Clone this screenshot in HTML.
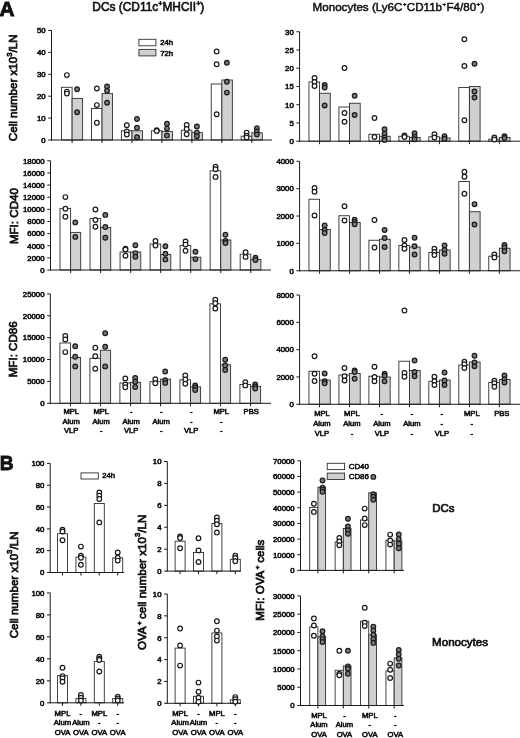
<!DOCTYPE html>
<html><head><meta charset="utf-8"><title>Figure</title>
<style>
html,body{margin:0;padding:0;background:#fff;}
body{width:520px;height:738px;overflow:hidden;font-family:"Liberation Sans",sans-serif;}
svg{display:block;will-change:transform;opacity:0.999;filter:blur(0.35px);}
svg text{font-family:"Liberation Sans",sans-serif;fill:#111;stroke:#111;stroke-width:0.6px;}
</style></head><body>
<svg width="520" height="738" viewBox="0 0 520 738">
<rect x="61.50" y="87.30" width="10.60" height="52.70" fill="#fff" stroke="#303030" stroke-width="0.9"/>
<rect x="72.10" y="98.40" width="10.50" height="41.60" fill="#d0d0d0" stroke="#303030" stroke-width="0.9"/>
<rect x="91.45" y="108.50" width="10.60" height="31.50" fill="#fff" stroke="#303030" stroke-width="0.9"/>
<rect x="102.05" y="93.60" width="10.50" height="46.40" fill="#d0d0d0" stroke="#303030" stroke-width="0.9"/>
<rect x="121.40" y="130.80" width="10.60" height="9.20" fill="#fff" stroke="#303030" stroke-width="0.9"/>
<rect x="132.00" y="130.80" width="10.50" height="9.20" fill="#d0d0d0" stroke="#303030" stroke-width="0.9"/>
<rect x="151.35" y="130.80" width="10.60" height="9.20" fill="#fff" stroke="#303030" stroke-width="0.9"/>
<rect x="161.95" y="131.40" width="10.50" height="8.60" fill="#d0d0d0" stroke="#303030" stroke-width="0.9"/>
<rect x="181.30" y="130.20" width="10.60" height="9.80" fill="#fff" stroke="#303030" stroke-width="0.9"/>
<rect x="191.90" y="132.60" width="10.50" height="7.40" fill="#d0d0d0" stroke="#303030" stroke-width="0.9"/>
<rect x="211.25" y="84.00" width="10.60" height="56.00" fill="#fff" stroke="#303030" stroke-width="0.9"/>
<rect x="221.85" y="80.00" width="10.50" height="60.00" fill="#d0d0d0" stroke="#303030" stroke-width="0.9"/>
<rect x="241.20" y="136.20" width="10.60" height="3.80" fill="#fff" stroke="#303030" stroke-width="0.9"/>
<rect x="251.80" y="132.80" width="10.50" height="7.20" fill="#d0d0d0" stroke="#303030" stroke-width="0.9"/>
<line x1="51.50" y1="30.50" x2="51.50" y2="140.50" stroke="#1a1a1a" stroke-width="1.0"/>
<line x1="51.00" y1="140.00" x2="272.00" y2="140.00" stroke="#1a1a1a" stroke-width="1.0"/>
<line x1="48.30" y1="140.00" x2="51.50" y2="140.00" stroke="#1a1a1a" stroke-width="1.0"/>
<text x="45.70" y="142.80" font-size="7.8" text-anchor="end" font-weight="normal" >0</text>
<line x1="48.30" y1="118.10" x2="51.50" y2="118.10" stroke="#1a1a1a" stroke-width="1.0"/>
<text x="45.70" y="120.90" font-size="7.8" text-anchor="end" font-weight="normal" >10</text>
<line x1="48.30" y1="96.20" x2="51.50" y2="96.20" stroke="#1a1a1a" stroke-width="1.0"/>
<text x="45.70" y="99.00" font-size="7.8" text-anchor="end" font-weight="normal" >20</text>
<line x1="48.30" y1="74.30" x2="51.50" y2="74.30" stroke="#1a1a1a" stroke-width="1.0"/>
<text x="45.70" y="77.10" font-size="7.8" text-anchor="end" font-weight="normal" >30</text>
<line x1="48.30" y1="52.40" x2="51.50" y2="52.40" stroke="#1a1a1a" stroke-width="1.0"/>
<text x="45.70" y="55.20" font-size="7.8" text-anchor="end" font-weight="normal" >40</text>
<line x1="48.30" y1="30.50" x2="51.50" y2="30.50" stroke="#1a1a1a" stroke-width="1.0"/>
<text x="45.70" y="33.30" font-size="7.8" text-anchor="end" font-weight="normal" >50</text>
<line x1="72.10" y1="140.00" x2="72.10" y2="143.00" stroke="#1a1a1a" stroke-width="1.0"/>
<line x1="102.05" y1="140.00" x2="102.05" y2="143.00" stroke="#1a1a1a" stroke-width="1.0"/>
<line x1="132.00" y1="140.00" x2="132.00" y2="143.00" stroke="#1a1a1a" stroke-width="1.0"/>
<line x1="161.95" y1="140.00" x2="161.95" y2="143.00" stroke="#1a1a1a" stroke-width="1.0"/>
<line x1="191.90" y1="140.00" x2="191.90" y2="143.00" stroke="#1a1a1a" stroke-width="1.0"/>
<line x1="221.85" y1="140.00" x2="221.85" y2="143.00" stroke="#1a1a1a" stroke-width="1.0"/>
<line x1="251.80" y1="140.00" x2="251.80" y2="143.00" stroke="#1a1a1a" stroke-width="1.0"/>
<circle cx="66.90" cy="75.10" r="2.33" fill="#fff" stroke="#1a1a1a" stroke-width="1.2"/>
<circle cx="66.90" cy="91.60" r="2.33" fill="#fff" stroke="#1a1a1a" stroke-width="1.2"/>
<circle cx="66.90" cy="93.60" r="2.33" fill="#fff" stroke="#1a1a1a" stroke-width="1.2"/>
<circle cx="77.10" cy="89.20" r="2.33" fill="#7a7a7a" stroke="#1a1a1a" stroke-width="1.2"/>
<circle cx="77.10" cy="112.20" r="2.33" fill="#7a7a7a" stroke="#1a1a1a" stroke-width="1.2"/>
<circle cx="96.85" cy="88.50" r="2.33" fill="#fff" stroke="#1a1a1a" stroke-width="1.2"/>
<circle cx="96.85" cy="105.10" r="2.33" fill="#fff" stroke="#1a1a1a" stroke-width="1.2"/>
<circle cx="96.85" cy="122.70" r="2.33" fill="#fff" stroke="#1a1a1a" stroke-width="1.2"/>
<circle cx="107.05" cy="86.50" r="2.33" fill="#7a7a7a" stroke="#1a1a1a" stroke-width="1.2"/>
<circle cx="107.05" cy="90.70" r="2.33" fill="#7a7a7a" stroke="#1a1a1a" stroke-width="1.2"/>
<circle cx="107.05" cy="102.80" r="2.33" fill="#7a7a7a" stroke="#1a1a1a" stroke-width="1.2"/>
<circle cx="126.80" cy="125.20" r="2.33" fill="#fff" stroke="#1a1a1a" stroke-width="1.2"/>
<circle cx="126.80" cy="131.40" r="2.33" fill="#fff" stroke="#1a1a1a" stroke-width="1.2"/>
<circle cx="126.80" cy="134.50" r="2.33" fill="#fff" stroke="#1a1a1a" stroke-width="1.2"/>
<circle cx="137.00" cy="119.00" r="2.33" fill="#7a7a7a" stroke="#1a1a1a" stroke-width="1.2"/>
<circle cx="137.00" cy="127.70" r="2.33" fill="#7a7a7a" stroke="#1a1a1a" stroke-width="1.2"/>
<circle cx="137.00" cy="137.20" r="2.33" fill="#7a7a7a" stroke="#1a1a1a" stroke-width="1.2"/>
<circle cx="156.75" cy="130.20" r="2.33" fill="#fff" stroke="#1a1a1a" stroke-width="1.2"/>
<circle cx="156.75" cy="131.00" r="2.33" fill="#fff" stroke="#1a1a1a" stroke-width="1.2"/>
<circle cx="166.95" cy="123.70" r="2.33" fill="#7a7a7a" stroke="#1a1a1a" stroke-width="1.2"/>
<circle cx="166.95" cy="128.60" r="2.33" fill="#7a7a7a" stroke="#1a1a1a" stroke-width="1.2"/>
<circle cx="166.95" cy="135.40" r="2.33" fill="#7a7a7a" stroke="#1a1a1a" stroke-width="1.2"/>
<circle cx="186.70" cy="124.90" r="2.33" fill="#fff" stroke="#1a1a1a" stroke-width="1.2"/>
<circle cx="186.70" cy="128.90" r="2.33" fill="#fff" stroke="#1a1a1a" stroke-width="1.2"/>
<circle cx="186.70" cy="134.20" r="2.33" fill="#fff" stroke="#1a1a1a" stroke-width="1.2"/>
<circle cx="196.90" cy="126.50" r="2.33" fill="#7a7a7a" stroke="#1a1a1a" stroke-width="1.2"/>
<circle cx="196.90" cy="132.60" r="2.33" fill="#7a7a7a" stroke="#1a1a1a" stroke-width="1.2"/>
<circle cx="196.90" cy="136.30" r="2.33" fill="#7a7a7a" stroke="#1a1a1a" stroke-width="1.2"/>
<circle cx="216.65" cy="51.40" r="2.33" fill="#fff" stroke="#1a1a1a" stroke-width="1.2"/>
<circle cx="216.65" cy="64.30" r="2.33" fill="#fff" stroke="#1a1a1a" stroke-width="1.2"/>
<circle cx="216.65" cy="114.20" r="2.33" fill="#fff" stroke="#1a1a1a" stroke-width="1.2"/>
<circle cx="226.85" cy="62.80" r="2.33" fill="#7a7a7a" stroke="#1a1a1a" stroke-width="1.2"/>
<circle cx="226.85" cy="81.80" r="2.33" fill="#7a7a7a" stroke="#1a1a1a" stroke-width="1.2"/>
<circle cx="226.85" cy="92.60" r="2.33" fill="#7a7a7a" stroke="#1a1a1a" stroke-width="1.2"/>
<circle cx="246.60" cy="132.60" r="2.33" fill="#fff" stroke="#1a1a1a" stroke-width="1.2"/>
<circle cx="246.60" cy="135.70" r="2.33" fill="#fff" stroke="#1a1a1a" stroke-width="1.2"/>
<circle cx="246.60" cy="137.60" r="2.33" fill="#fff" stroke="#1a1a1a" stroke-width="1.2"/>
<circle cx="256.80" cy="128.30" r="2.33" fill="#7a7a7a" stroke="#1a1a1a" stroke-width="1.2"/>
<circle cx="256.80" cy="131.40" r="2.33" fill="#7a7a7a" stroke="#1a1a1a" stroke-width="1.2"/>
<circle cx="256.80" cy="134.50" r="2.33" fill="#7a7a7a" stroke="#1a1a1a" stroke-width="1.2"/>
<rect x="60.00" y="208.40" width="10.60" height="61.60" fill="#fff" stroke="#303030" stroke-width="0.9"/>
<rect x="70.60" y="232.40" width="10.10" height="37.60" fill="#d0d0d0" stroke="#303030" stroke-width="0.9"/>
<rect x="90.03" y="218.60" width="10.60" height="51.40" fill="#fff" stroke="#303030" stroke-width="0.9"/>
<rect x="100.63" y="227.50" width="10.10" height="42.50" fill="#d0d0d0" stroke="#303030" stroke-width="0.9"/>
<rect x="120.06" y="252.00" width="10.60" height="18.00" fill="#fff" stroke="#303030" stroke-width="0.9"/>
<rect x="130.66" y="252.00" width="10.10" height="18.00" fill="#d0d0d0" stroke="#303030" stroke-width="0.9"/>
<rect x="150.09" y="244.00" width="10.60" height="26.00" fill="#fff" stroke="#303030" stroke-width="0.9"/>
<rect x="160.69" y="254.50" width="10.10" height="15.50" fill="#d0d0d0" stroke="#303030" stroke-width="0.9"/>
<rect x="180.12" y="245.50" width="10.60" height="24.50" fill="#fff" stroke="#303030" stroke-width="0.9"/>
<rect x="190.72" y="257.20" width="10.10" height="12.80" fill="#d0d0d0" stroke="#303030" stroke-width="0.9"/>
<rect x="210.15" y="170.80" width="10.60" height="99.20" fill="#fff" stroke="#303030" stroke-width="0.9"/>
<rect x="220.75" y="240.00" width="10.10" height="30.00" fill="#d0d0d0" stroke="#303030" stroke-width="0.9"/>
<rect x="240.18" y="254.20" width="10.60" height="15.80" fill="#fff" stroke="#303030" stroke-width="0.9"/>
<rect x="250.78" y="259.40" width="10.10" height="10.60" fill="#d0d0d0" stroke="#303030" stroke-width="0.9"/>
<line x1="50.50" y1="160.80" x2="50.50" y2="270.50" stroke="#1a1a1a" stroke-width="1.0"/>
<line x1="50.00" y1="270.00" x2="271.00" y2="270.00" stroke="#1a1a1a" stroke-width="1.0"/>
<line x1="47.30" y1="270.00" x2="50.50" y2="270.00" stroke="#1a1a1a" stroke-width="1.0"/>
<text x="44.70" y="272.80" font-size="7.8" text-anchor="end" font-weight="normal" >0</text>
<line x1="47.30" y1="257.87" x2="50.50" y2="257.87" stroke="#1a1a1a" stroke-width="1.0"/>
<text x="44.70" y="260.67" font-size="7.8" text-anchor="end" font-weight="normal" >2000</text>
<line x1="47.30" y1="245.73" x2="50.50" y2="245.73" stroke="#1a1a1a" stroke-width="1.0"/>
<text x="44.70" y="248.53" font-size="7.8" text-anchor="end" font-weight="normal" >4000</text>
<line x1="47.30" y1="233.60" x2="50.50" y2="233.60" stroke="#1a1a1a" stroke-width="1.0"/>
<text x="44.70" y="236.40" font-size="7.8" text-anchor="end" font-weight="normal" >6000</text>
<line x1="47.30" y1="221.47" x2="50.50" y2="221.47" stroke="#1a1a1a" stroke-width="1.0"/>
<text x="44.70" y="224.27" font-size="7.8" text-anchor="end" font-weight="normal" >8000</text>
<line x1="47.30" y1="209.33" x2="50.50" y2="209.33" stroke="#1a1a1a" stroke-width="1.0"/>
<text x="44.70" y="212.13" font-size="7.8" text-anchor="end" font-weight="normal" >10000</text>
<line x1="47.30" y1="197.20" x2="50.50" y2="197.20" stroke="#1a1a1a" stroke-width="1.0"/>
<text x="44.70" y="200.00" font-size="7.8" text-anchor="end" font-weight="normal" >12000</text>
<line x1="47.30" y1="185.07" x2="50.50" y2="185.07" stroke="#1a1a1a" stroke-width="1.0"/>
<text x="44.70" y="187.87" font-size="7.8" text-anchor="end" font-weight="normal" >14000</text>
<line x1="47.30" y1="172.93" x2="50.50" y2="172.93" stroke="#1a1a1a" stroke-width="1.0"/>
<text x="44.70" y="175.73" font-size="7.8" text-anchor="end" font-weight="normal" >16000</text>
<line x1="47.30" y1="160.80" x2="50.50" y2="160.80" stroke="#1a1a1a" stroke-width="1.0"/>
<text x="44.70" y="163.60" font-size="7.8" text-anchor="end" font-weight="normal" >18000</text>
<line x1="70.60" y1="270.00" x2="70.60" y2="273.00" stroke="#1a1a1a" stroke-width="1.0"/>
<line x1="100.63" y1="270.00" x2="100.63" y2="273.00" stroke="#1a1a1a" stroke-width="1.0"/>
<line x1="130.66" y1="270.00" x2="130.66" y2="273.00" stroke="#1a1a1a" stroke-width="1.0"/>
<line x1="160.69" y1="270.00" x2="160.69" y2="273.00" stroke="#1a1a1a" stroke-width="1.0"/>
<line x1="190.72" y1="270.00" x2="190.72" y2="273.00" stroke="#1a1a1a" stroke-width="1.0"/>
<line x1="220.75" y1="270.00" x2="220.75" y2="273.00" stroke="#1a1a1a" stroke-width="1.0"/>
<line x1="250.78" y1="270.00" x2="250.78" y2="273.00" stroke="#1a1a1a" stroke-width="1.0"/>
<circle cx="65.40" cy="197.10" r="2.33" fill="#fff" stroke="#1a1a1a" stroke-width="1.2"/>
<circle cx="65.40" cy="208.70" r="2.33" fill="#fff" stroke="#1a1a1a" stroke-width="1.2"/>
<circle cx="65.40" cy="216.70" r="2.33" fill="#fff" stroke="#1a1a1a" stroke-width="1.2"/>
<circle cx="75.30" cy="222.40" r="2.33" fill="#7a7a7a" stroke="#1a1a1a" stroke-width="1.2"/>
<circle cx="75.30" cy="236.90" r="2.33" fill="#7a7a7a" stroke="#1a1a1a" stroke-width="1.2"/>
<circle cx="95.43" cy="209.50" r="2.33" fill="#fff" stroke="#1a1a1a" stroke-width="1.2"/>
<circle cx="95.43" cy="220.00" r="2.33" fill="#fff" stroke="#1a1a1a" stroke-width="1.2"/>
<circle cx="95.43" cy="226.70" r="2.33" fill="#fff" stroke="#1a1a1a" stroke-width="1.2"/>
<circle cx="105.33" cy="214.90" r="2.33" fill="#7a7a7a" stroke="#1a1a1a" stroke-width="1.2"/>
<circle cx="105.33" cy="227.00" r="2.33" fill="#7a7a7a" stroke="#1a1a1a" stroke-width="1.2"/>
<circle cx="105.33" cy="237.70" r="2.33" fill="#7a7a7a" stroke="#1a1a1a" stroke-width="1.2"/>
<circle cx="125.46" cy="248.80" r="2.33" fill="#fff" stroke="#1a1a1a" stroke-width="1.2"/>
<circle cx="125.46" cy="249.60" r="2.33" fill="#fff" stroke="#1a1a1a" stroke-width="1.2"/>
<circle cx="125.46" cy="255.80" r="2.33" fill="#fff" stroke="#1a1a1a" stroke-width="1.2"/>
<circle cx="135.36" cy="245.20" r="2.33" fill="#7a7a7a" stroke="#1a1a1a" stroke-width="1.2"/>
<circle cx="135.36" cy="253.10" r="2.33" fill="#7a7a7a" stroke="#1a1a1a" stroke-width="1.2"/>
<circle cx="135.36" cy="256.80" r="2.33" fill="#7a7a7a" stroke="#1a1a1a" stroke-width="1.2"/>
<circle cx="155.49" cy="240.90" r="2.33" fill="#fff" stroke="#1a1a1a" stroke-width="1.2"/>
<circle cx="155.49" cy="245.50" r="2.33" fill="#fff" stroke="#1a1a1a" stroke-width="1.2"/>
<circle cx="165.39" cy="246.20" r="2.33" fill="#7a7a7a" stroke="#1a1a1a" stroke-width="1.2"/>
<circle cx="165.39" cy="253.80" r="2.33" fill="#7a7a7a" stroke="#1a1a1a" stroke-width="1.2"/>
<circle cx="165.39" cy="259.40" r="2.33" fill="#7a7a7a" stroke="#1a1a1a" stroke-width="1.2"/>
<circle cx="185.52" cy="241.50" r="2.33" fill="#fff" stroke="#1a1a1a" stroke-width="1.2"/>
<circle cx="185.52" cy="244.60" r="2.33" fill="#fff" stroke="#1a1a1a" stroke-width="1.2"/>
<circle cx="185.52" cy="250.80" r="2.33" fill="#fff" stroke="#1a1a1a" stroke-width="1.2"/>
<circle cx="195.42" cy="251.70" r="2.33" fill="#7a7a7a" stroke="#1a1a1a" stroke-width="1.2"/>
<circle cx="195.42" cy="259.10" r="2.33" fill="#7a7a7a" stroke="#1a1a1a" stroke-width="1.2"/>
<circle cx="215.55" cy="166.80" r="2.33" fill="#fff" stroke="#1a1a1a" stroke-width="1.2"/>
<circle cx="215.55" cy="169.20" r="2.33" fill="#fff" stroke="#1a1a1a" stroke-width="1.2"/>
<circle cx="215.55" cy="176.90" r="2.33" fill="#fff" stroke="#1a1a1a" stroke-width="1.2"/>
<circle cx="225.45" cy="234.80" r="2.33" fill="#7a7a7a" stroke="#1a1a1a" stroke-width="1.2"/>
<circle cx="225.45" cy="240.90" r="2.33" fill="#7a7a7a" stroke="#1a1a1a" stroke-width="1.2"/>
<circle cx="225.45" cy="243.00" r="2.33" fill="#7a7a7a" stroke="#1a1a1a" stroke-width="1.2"/>
<circle cx="245.58" cy="252.30" r="2.33" fill="#fff" stroke="#1a1a1a" stroke-width="1.2"/>
<circle cx="245.58" cy="256.90" r="2.33" fill="#fff" stroke="#1a1a1a" stroke-width="1.2"/>
<circle cx="255.48" cy="257.80" r="2.33" fill="#7a7a7a" stroke="#1a1a1a" stroke-width="1.2"/>
<circle cx="255.48" cy="260.00" r="2.33" fill="#7a7a7a" stroke="#1a1a1a" stroke-width="1.2"/>
<rect x="59.90" y="343.00" width="10.60" height="60.30" fill="#fff" stroke="#303030" stroke-width="0.9"/>
<rect x="70.50" y="357.50" width="10.10" height="45.80" fill="#d0d0d0" stroke="#303030" stroke-width="0.9"/>
<rect x="89.90" y="358.30" width="10.60" height="45.00" fill="#fff" stroke="#303030" stroke-width="0.9"/>
<rect x="100.50" y="350.20" width="10.10" height="53.10" fill="#d0d0d0" stroke="#303030" stroke-width="0.9"/>
<rect x="119.90" y="383.00" width="10.60" height="20.30" fill="#fff" stroke="#303030" stroke-width="0.9"/>
<rect x="130.50" y="382.40" width="10.10" height="20.90" fill="#d0d0d0" stroke="#303030" stroke-width="0.9"/>
<rect x="149.90" y="381.70" width="10.60" height="21.60" fill="#fff" stroke="#303030" stroke-width="0.9"/>
<rect x="160.50" y="379.20" width="10.10" height="24.10" fill="#d0d0d0" stroke="#303030" stroke-width="0.9"/>
<rect x="179.90" y="379.80" width="10.60" height="23.50" fill="#fff" stroke="#303030" stroke-width="0.9"/>
<rect x="190.50" y="386.90" width="10.10" height="16.40" fill="#d0d0d0" stroke="#303030" stroke-width="0.9"/>
<rect x="209.90" y="303.80" width="10.60" height="99.50" fill="#fff" stroke="#303030" stroke-width="0.9"/>
<rect x="220.50" y="364.80" width="10.10" height="38.50" fill="#d0d0d0" stroke="#303030" stroke-width="0.9"/>
<rect x="239.90" y="384.50" width="10.60" height="18.80" fill="#fff" stroke="#303030" stroke-width="0.9"/>
<rect x="250.50" y="386.30" width="10.10" height="17.00" fill="#d0d0d0" stroke="#303030" stroke-width="0.9"/>
<line x1="50.30" y1="293.90" x2="50.30" y2="403.80" stroke="#1a1a1a" stroke-width="1.0"/>
<line x1="49.80" y1="403.30" x2="271.00" y2="403.30" stroke="#1a1a1a" stroke-width="1.0"/>
<line x1="47.10" y1="403.30" x2="50.30" y2="403.30" stroke="#1a1a1a" stroke-width="1.0"/>
<text x="44.50" y="406.10" font-size="7.8" text-anchor="end" font-weight="normal" >0</text>
<line x1="47.10" y1="381.42" x2="50.30" y2="381.42" stroke="#1a1a1a" stroke-width="1.0"/>
<text x="44.50" y="384.22" font-size="7.8" text-anchor="end" font-weight="normal" >5000</text>
<line x1="47.10" y1="359.54" x2="50.30" y2="359.54" stroke="#1a1a1a" stroke-width="1.0"/>
<text x="44.50" y="362.34" font-size="7.8" text-anchor="end" font-weight="normal" >10000</text>
<line x1="47.10" y1="337.66" x2="50.30" y2="337.66" stroke="#1a1a1a" stroke-width="1.0"/>
<text x="44.50" y="340.46" font-size="7.8" text-anchor="end" font-weight="normal" >15000</text>
<line x1="47.10" y1="315.78" x2="50.30" y2="315.78" stroke="#1a1a1a" stroke-width="1.0"/>
<text x="44.50" y="318.58" font-size="7.8" text-anchor="end" font-weight="normal" >20000</text>
<line x1="47.10" y1="293.90" x2="50.30" y2="293.90" stroke="#1a1a1a" stroke-width="1.0"/>
<text x="44.50" y="296.70" font-size="7.8" text-anchor="end" font-weight="normal" >25000</text>
<line x1="70.50" y1="403.30" x2="70.50" y2="406.30" stroke="#1a1a1a" stroke-width="1.0"/>
<line x1="100.50" y1="403.30" x2="100.50" y2="406.30" stroke="#1a1a1a" stroke-width="1.0"/>
<line x1="130.50" y1="403.30" x2="130.50" y2="406.30" stroke="#1a1a1a" stroke-width="1.0"/>
<line x1="160.50" y1="403.30" x2="160.50" y2="406.30" stroke="#1a1a1a" stroke-width="1.0"/>
<line x1="190.50" y1="403.30" x2="190.50" y2="406.30" stroke="#1a1a1a" stroke-width="1.0"/>
<line x1="220.50" y1="403.30" x2="220.50" y2="406.30" stroke="#1a1a1a" stroke-width="1.0"/>
<line x1="250.50" y1="403.30" x2="250.50" y2="406.30" stroke="#1a1a1a" stroke-width="1.0"/>
<circle cx="65.30" cy="336.00" r="2.33" fill="#fff" stroke="#1a1a1a" stroke-width="1.2"/>
<circle cx="65.30" cy="339.50" r="2.33" fill="#fff" stroke="#1a1a1a" stroke-width="1.2"/>
<circle cx="65.30" cy="352.10" r="2.33" fill="#fff" stroke="#1a1a1a" stroke-width="1.2"/>
<circle cx="75.20" cy="346.20" r="2.33" fill="#7a7a7a" stroke="#1a1a1a" stroke-width="1.2"/>
<circle cx="75.20" cy="356.70" r="2.33" fill="#7a7a7a" stroke="#1a1a1a" stroke-width="1.2"/>
<circle cx="75.20" cy="366.40" r="2.33" fill="#7a7a7a" stroke="#1a1a1a" stroke-width="1.2"/>
<circle cx="95.30" cy="347.80" r="2.33" fill="#fff" stroke="#1a1a1a" stroke-width="1.2"/>
<circle cx="95.30" cy="356.20" r="2.33" fill="#fff" stroke="#1a1a1a" stroke-width="1.2"/>
<circle cx="95.30" cy="368.80" r="2.33" fill="#fff" stroke="#1a1a1a" stroke-width="1.2"/>
<circle cx="105.20" cy="333.30" r="2.33" fill="#7a7a7a" stroke="#1a1a1a" stroke-width="1.2"/>
<circle cx="105.20" cy="346.70" r="2.33" fill="#7a7a7a" stroke="#1a1a1a" stroke-width="1.2"/>
<circle cx="105.20" cy="366.40" r="2.33" fill="#7a7a7a" stroke="#1a1a1a" stroke-width="1.2"/>
<circle cx="125.30" cy="378.40" r="2.33" fill="#fff" stroke="#1a1a1a" stroke-width="1.2"/>
<circle cx="125.30" cy="384.40" r="2.33" fill="#fff" stroke="#1a1a1a" stroke-width="1.2"/>
<circle cx="125.30" cy="387.20" r="2.33" fill="#fff" stroke="#1a1a1a" stroke-width="1.2"/>
<circle cx="135.20" cy="377.90" r="2.33" fill="#7a7a7a" stroke="#1a1a1a" stroke-width="1.2"/>
<circle cx="135.20" cy="381.70" r="2.33" fill="#7a7a7a" stroke="#1a1a1a" stroke-width="1.2"/>
<circle cx="135.20" cy="387.00" r="2.33" fill="#7a7a7a" stroke="#1a1a1a" stroke-width="1.2"/>
<circle cx="155.30" cy="379.20" r="2.33" fill="#fff" stroke="#1a1a1a" stroke-width="1.2"/>
<circle cx="155.30" cy="383.20" r="2.33" fill="#fff" stroke="#1a1a1a" stroke-width="1.2"/>
<circle cx="165.20" cy="371.50" r="2.33" fill="#7a7a7a" stroke="#1a1a1a" stroke-width="1.2"/>
<circle cx="165.20" cy="380.20" r="2.33" fill="#7a7a7a" stroke="#1a1a1a" stroke-width="1.2"/>
<circle cx="165.20" cy="382.90" r="2.33" fill="#7a7a7a" stroke="#1a1a1a" stroke-width="1.2"/>
<circle cx="185.30" cy="375.50" r="2.33" fill="#fff" stroke="#1a1a1a" stroke-width="1.2"/>
<circle cx="185.30" cy="379.50" r="2.33" fill="#fff" stroke="#1a1a1a" stroke-width="1.2"/>
<circle cx="185.30" cy="383.80" r="2.33" fill="#fff" stroke="#1a1a1a" stroke-width="1.2"/>
<circle cx="195.20" cy="385.40" r="2.33" fill="#7a7a7a" stroke="#1a1a1a" stroke-width="1.2"/>
<circle cx="195.20" cy="387.50" r="2.33" fill="#7a7a7a" stroke="#1a1a1a" stroke-width="1.2"/>
<circle cx="195.20" cy="390.00" r="2.33" fill="#7a7a7a" stroke="#1a1a1a" stroke-width="1.2"/>
<circle cx="215.30" cy="299.80" r="2.33" fill="#fff" stroke="#1a1a1a" stroke-width="1.2"/>
<circle cx="215.30" cy="303.20" r="2.33" fill="#fff" stroke="#1a1a1a" stroke-width="1.2"/>
<circle cx="215.30" cy="308.50" r="2.33" fill="#fff" stroke="#1a1a1a" stroke-width="1.2"/>
<circle cx="225.20" cy="359.80" r="2.33" fill="#7a7a7a" stroke="#1a1a1a" stroke-width="1.2"/>
<circle cx="225.20" cy="365.40" r="2.33" fill="#7a7a7a" stroke="#1a1a1a" stroke-width="1.2"/>
<circle cx="225.20" cy="370.00" r="2.33" fill="#7a7a7a" stroke="#1a1a1a" stroke-width="1.2"/>
<circle cx="245.30" cy="382.30" r="2.33" fill="#fff" stroke="#1a1a1a" stroke-width="1.2"/>
<circle cx="245.30" cy="385.40" r="2.33" fill="#fff" stroke="#1a1a1a" stroke-width="1.2"/>
<circle cx="255.20" cy="384.50" r="2.33" fill="#7a7a7a" stroke="#1a1a1a" stroke-width="1.2"/>
<circle cx="255.20" cy="386.50" r="2.33" fill="#7a7a7a" stroke="#1a1a1a" stroke-width="1.2"/>
<circle cx="255.20" cy="388.50" r="2.33" fill="#7a7a7a" stroke="#1a1a1a" stroke-width="1.2"/>
<rect x="308.95" y="82.00" width="10.60" height="59.20" fill="#fff" stroke="#303030" stroke-width="0.9"/>
<rect x="319.55" y="93.25" width="10.70" height="47.95" fill="#d0d0d0" stroke="#303030" stroke-width="0.9"/>
<rect x="338.92" y="107.00" width="10.60" height="34.20" fill="#fff" stroke="#303030" stroke-width="0.9"/>
<rect x="349.52" y="103.25" width="10.70" height="37.95" fill="#d0d0d0" stroke="#303030" stroke-width="0.9"/>
<rect x="368.89" y="134.25" width="10.60" height="6.95" fill="#fff" stroke="#303030" stroke-width="0.9"/>
<rect x="379.49" y="136.25" width="10.70" height="4.95" fill="#d0d0d0" stroke="#303030" stroke-width="0.9"/>
<rect x="398.86" y="136.25" width="10.60" height="4.95" fill="#fff" stroke="#303030" stroke-width="0.9"/>
<rect x="409.46" y="137.50" width="10.70" height="3.70" fill="#d0d0d0" stroke="#303030" stroke-width="0.9"/>
<rect x="428.83" y="136.75" width="10.60" height="4.45" fill="#fff" stroke="#303030" stroke-width="0.9"/>
<rect x="439.43" y="138.00" width="10.70" height="3.20" fill="#d0d0d0" stroke="#303030" stroke-width="0.9"/>
<rect x="458.80" y="87.50" width="10.60" height="53.70" fill="#fff" stroke="#303030" stroke-width="0.9"/>
<rect x="469.40" y="86.50" width="10.70" height="54.70" fill="#d0d0d0" stroke="#303030" stroke-width="0.9"/>
<rect x="488.77" y="139.25" width="10.60" height="1.95" fill="#fff" stroke="#303030" stroke-width="0.9"/>
<rect x="499.37" y="137.50" width="10.70" height="3.70" fill="#d0d0d0" stroke="#303030" stroke-width="0.9"/>
<line x1="299.60" y1="31.75" x2="299.60" y2="141.70" stroke="#1a1a1a" stroke-width="1.0"/>
<line x1="299.10" y1="141.20" x2="520.00" y2="141.20" stroke="#1a1a1a" stroke-width="1.0"/>
<line x1="296.40" y1="141.20" x2="299.60" y2="141.20" stroke="#1a1a1a" stroke-width="1.0"/>
<text x="293.80" y="144.00" font-size="7.8" text-anchor="end" font-weight="normal" >0</text>
<line x1="296.40" y1="122.96" x2="299.60" y2="122.96" stroke="#1a1a1a" stroke-width="1.0"/>
<text x="293.80" y="125.76" font-size="7.8" text-anchor="end" font-weight="normal" >5</text>
<line x1="296.40" y1="104.72" x2="299.60" y2="104.72" stroke="#1a1a1a" stroke-width="1.0"/>
<text x="293.80" y="107.52" font-size="7.8" text-anchor="end" font-weight="normal" >10</text>
<line x1="296.40" y1="86.47" x2="299.60" y2="86.47" stroke="#1a1a1a" stroke-width="1.0"/>
<text x="293.80" y="89.27" font-size="7.8" text-anchor="end" font-weight="normal" >15</text>
<line x1="296.40" y1="68.23" x2="299.60" y2="68.23" stroke="#1a1a1a" stroke-width="1.0"/>
<text x="293.80" y="71.03" font-size="7.8" text-anchor="end" font-weight="normal" >20</text>
<line x1="296.40" y1="49.99" x2="299.60" y2="49.99" stroke="#1a1a1a" stroke-width="1.0"/>
<text x="293.80" y="52.79" font-size="7.8" text-anchor="end" font-weight="normal" >25</text>
<line x1="296.40" y1="31.75" x2="299.60" y2="31.75" stroke="#1a1a1a" stroke-width="1.0"/>
<text x="293.80" y="34.55" font-size="7.8" text-anchor="end" font-weight="normal" >30</text>
<line x1="319.55" y1="141.20" x2="319.55" y2="144.20" stroke="#1a1a1a" stroke-width="1.0"/>
<line x1="349.52" y1="141.20" x2="349.52" y2="144.20" stroke="#1a1a1a" stroke-width="1.0"/>
<line x1="379.49" y1="141.20" x2="379.49" y2="144.20" stroke="#1a1a1a" stroke-width="1.0"/>
<line x1="409.46" y1="141.20" x2="409.46" y2="144.20" stroke="#1a1a1a" stroke-width="1.0"/>
<line x1="439.43" y1="141.20" x2="439.43" y2="144.20" stroke="#1a1a1a" stroke-width="1.0"/>
<line x1="469.40" y1="141.20" x2="469.40" y2="144.20" stroke="#1a1a1a" stroke-width="1.0"/>
<line x1="499.37" y1="141.20" x2="499.37" y2="144.20" stroke="#1a1a1a" stroke-width="1.0"/>
<circle cx="314.55" cy="78.00" r="2.33" fill="#fff" stroke="#1a1a1a" stroke-width="1.2"/>
<circle cx="314.55" cy="82.00" r="2.33" fill="#fff" stroke="#1a1a1a" stroke-width="1.2"/>
<circle cx="314.55" cy="86.00" r="2.33" fill="#fff" stroke="#1a1a1a" stroke-width="1.2"/>
<circle cx="324.65" cy="85.00" r="2.33" fill="#7a7a7a" stroke="#1a1a1a" stroke-width="1.2"/>
<circle cx="324.65" cy="87.50" r="2.33" fill="#7a7a7a" stroke="#1a1a1a" stroke-width="1.2"/>
<circle cx="324.65" cy="105.50" r="2.33" fill="#7a7a7a" stroke="#1a1a1a" stroke-width="1.2"/>
<circle cx="344.52" cy="68.00" r="2.33" fill="#fff" stroke="#1a1a1a" stroke-width="1.2"/>
<circle cx="344.52" cy="113.00" r="2.33" fill="#fff" stroke="#1a1a1a" stroke-width="1.2"/>
<circle cx="344.52" cy="121.75" r="2.33" fill="#fff" stroke="#1a1a1a" stroke-width="1.2"/>
<circle cx="354.62" cy="95.75" r="2.33" fill="#7a7a7a" stroke="#1a1a1a" stroke-width="1.2"/>
<circle cx="354.62" cy="115.00" r="2.33" fill="#7a7a7a" stroke="#1a1a1a" stroke-width="1.2"/>
<circle cx="374.49" cy="118.00" r="2.33" fill="#fff" stroke="#1a1a1a" stroke-width="1.2"/>
<circle cx="374.49" cy="137.00" r="2.33" fill="#fff" stroke="#1a1a1a" stroke-width="1.2"/>
<circle cx="384.59" cy="129.25" r="2.33" fill="#7a7a7a" stroke="#1a1a1a" stroke-width="1.2"/>
<circle cx="384.59" cy="133.75" r="2.33" fill="#7a7a7a" stroke="#1a1a1a" stroke-width="1.2"/>
<circle cx="384.59" cy="137.50" r="2.33" fill="#7a7a7a" stroke="#1a1a1a" stroke-width="1.2"/>
<circle cx="384.59" cy="140.00" r="2.33" fill="#7a7a7a" stroke="#1a1a1a" stroke-width="1.2"/>
<circle cx="404.46" cy="135.50" r="2.33" fill="#fff" stroke="#1a1a1a" stroke-width="1.2"/>
<circle cx="404.46" cy="137.00" r="2.33" fill="#fff" stroke="#1a1a1a" stroke-width="1.2"/>
<circle cx="414.56" cy="133.25" r="2.33" fill="#7a7a7a" stroke="#1a1a1a" stroke-width="1.2"/>
<circle cx="414.56" cy="136.75" r="2.33" fill="#7a7a7a" stroke="#1a1a1a" stroke-width="1.2"/>
<circle cx="414.56" cy="139.25" r="2.33" fill="#7a7a7a" stroke="#1a1a1a" stroke-width="1.2"/>
<circle cx="434.43" cy="134.25" r="2.33" fill="#fff" stroke="#1a1a1a" stroke-width="1.2"/>
<circle cx="434.43" cy="137.50" r="2.33" fill="#fff" stroke="#1a1a1a" stroke-width="1.2"/>
<circle cx="444.53" cy="136.25" r="2.33" fill="#7a7a7a" stroke="#1a1a1a" stroke-width="1.2"/>
<circle cx="444.53" cy="138.75" r="2.33" fill="#7a7a7a" stroke="#1a1a1a" stroke-width="1.2"/>
<circle cx="464.40" cy="39.25" r="2.33" fill="#fff" stroke="#1a1a1a" stroke-width="1.2"/>
<circle cx="464.40" cy="66.00" r="2.33" fill="#fff" stroke="#1a1a1a" stroke-width="1.2"/>
<circle cx="464.40" cy="120.25" r="2.33" fill="#fff" stroke="#1a1a1a" stroke-width="1.2"/>
<circle cx="474.50" cy="63.75" r="2.33" fill="#7a7a7a" stroke="#1a1a1a" stroke-width="1.2"/>
<circle cx="474.50" cy="91.50" r="2.33" fill="#7a7a7a" stroke="#1a1a1a" stroke-width="1.2"/>
<circle cx="474.50" cy="97.50" r="2.33" fill="#7a7a7a" stroke="#1a1a1a" stroke-width="1.2"/>
<circle cx="494.37" cy="137.50" r="2.33" fill="#fff" stroke="#1a1a1a" stroke-width="1.2"/>
<circle cx="494.37" cy="139.50" r="2.33" fill="#fff" stroke="#1a1a1a" stroke-width="1.2"/>
<circle cx="504.47" cy="136.25" r="2.33" fill="#7a7a7a" stroke="#1a1a1a" stroke-width="1.2"/>
<circle cx="504.47" cy="138.00" r="2.33" fill="#7a7a7a" stroke="#1a1a1a" stroke-width="1.2"/>
<rect x="308.95" y="199.25" width="10.60" height="71.50" fill="#fff" stroke="#303030" stroke-width="0.9"/>
<rect x="319.55" y="229.50" width="10.70" height="41.25" fill="#d0d0d0" stroke="#303030" stroke-width="0.9"/>
<rect x="338.92" y="215.75" width="10.60" height="55.00" fill="#fff" stroke="#303030" stroke-width="0.9"/>
<rect x="349.52" y="222.50" width="10.70" height="48.25" fill="#d0d0d0" stroke="#303030" stroke-width="0.9"/>
<rect x="368.89" y="240.25" width="10.60" height="30.50" fill="#fff" stroke="#303030" stroke-width="0.9"/>
<rect x="379.49" y="239.25" width="10.70" height="31.50" fill="#d0d0d0" stroke="#303030" stroke-width="0.9"/>
<rect x="398.86" y="245.50" width="10.60" height="25.25" fill="#fff" stroke="#303030" stroke-width="0.9"/>
<rect x="409.46" y="247.00" width="10.70" height="23.75" fill="#d0d0d0" stroke="#303030" stroke-width="0.9"/>
<rect x="428.83" y="252.50" width="10.60" height="18.25" fill="#fff" stroke="#303030" stroke-width="0.9"/>
<rect x="439.43" y="250.00" width="10.70" height="20.75" fill="#d0d0d0" stroke="#303030" stroke-width="0.9"/>
<rect x="458.80" y="181.50" width="10.60" height="89.25" fill="#fff" stroke="#303030" stroke-width="0.9"/>
<rect x="469.40" y="211.75" width="10.70" height="59.00" fill="#d0d0d0" stroke="#303030" stroke-width="0.9"/>
<rect x="488.77" y="256.25" width="10.60" height="14.50" fill="#fff" stroke="#303030" stroke-width="0.9"/>
<rect x="499.37" y="248.25" width="10.70" height="22.50" fill="#d0d0d0" stroke="#303030" stroke-width="0.9"/>
<line x1="299.60" y1="161.30" x2="299.60" y2="271.25" stroke="#1a1a1a" stroke-width="1.0"/>
<line x1="299.10" y1="270.75" x2="520.00" y2="270.75" stroke="#1a1a1a" stroke-width="1.0"/>
<line x1="296.40" y1="270.75" x2="299.60" y2="270.75" stroke="#1a1a1a" stroke-width="1.0"/>
<text x="293.80" y="273.55" font-size="7.8" text-anchor="end" font-weight="normal" >0</text>
<line x1="296.40" y1="243.39" x2="299.60" y2="243.39" stroke="#1a1a1a" stroke-width="1.0"/>
<text x="293.80" y="246.19" font-size="7.8" text-anchor="end" font-weight="normal" >1000</text>
<line x1="296.40" y1="216.03" x2="299.60" y2="216.03" stroke="#1a1a1a" stroke-width="1.0"/>
<text x="293.80" y="218.83" font-size="7.8" text-anchor="end" font-weight="normal" >2000</text>
<line x1="296.40" y1="188.66" x2="299.60" y2="188.66" stroke="#1a1a1a" stroke-width="1.0"/>
<text x="293.80" y="191.46" font-size="7.8" text-anchor="end" font-weight="normal" >3000</text>
<line x1="296.40" y1="161.30" x2="299.60" y2="161.30" stroke="#1a1a1a" stroke-width="1.0"/>
<text x="293.80" y="164.10" font-size="7.8" text-anchor="end" font-weight="normal" >4000</text>
<line x1="319.55" y1="270.75" x2="319.55" y2="273.75" stroke="#1a1a1a" stroke-width="1.0"/>
<line x1="349.52" y1="270.75" x2="349.52" y2="273.75" stroke="#1a1a1a" stroke-width="1.0"/>
<line x1="379.49" y1="270.75" x2="379.49" y2="273.75" stroke="#1a1a1a" stroke-width="1.0"/>
<line x1="409.46" y1="270.75" x2="409.46" y2="273.75" stroke="#1a1a1a" stroke-width="1.0"/>
<line x1="439.43" y1="270.75" x2="439.43" y2="273.75" stroke="#1a1a1a" stroke-width="1.0"/>
<line x1="469.40" y1="270.75" x2="469.40" y2="273.75" stroke="#1a1a1a" stroke-width="1.0"/>
<line x1="499.37" y1="270.75" x2="499.37" y2="273.75" stroke="#1a1a1a" stroke-width="1.0"/>
<circle cx="314.55" cy="188.00" r="2.33" fill="#fff" stroke="#1a1a1a" stroke-width="1.2"/>
<circle cx="314.55" cy="191.75" r="2.33" fill="#fff" stroke="#1a1a1a" stroke-width="1.2"/>
<circle cx="314.55" cy="215.50" r="2.33" fill="#fff" stroke="#1a1a1a" stroke-width="1.2"/>
<circle cx="324.65" cy="225.50" r="2.33" fill="#7a7a7a" stroke="#1a1a1a" stroke-width="1.2"/>
<circle cx="324.65" cy="230.00" r="2.33" fill="#7a7a7a" stroke="#1a1a1a" stroke-width="1.2"/>
<circle cx="324.65" cy="233.00" r="2.33" fill="#7a7a7a" stroke="#1a1a1a" stroke-width="1.2"/>
<circle cx="344.52" cy="206.25" r="2.33" fill="#fff" stroke="#1a1a1a" stroke-width="1.2"/>
<circle cx="344.52" cy="220.50" r="2.33" fill="#fff" stroke="#1a1a1a" stroke-width="1.2"/>
<circle cx="354.62" cy="219.75" r="2.33" fill="#7a7a7a" stroke="#1a1a1a" stroke-width="1.2"/>
<circle cx="354.62" cy="222.00" r="2.33" fill="#7a7a7a" stroke="#1a1a1a" stroke-width="1.2"/>
<circle cx="354.62" cy="224.25" r="2.33" fill="#7a7a7a" stroke="#1a1a1a" stroke-width="1.2"/>
<circle cx="374.49" cy="220.00" r="2.33" fill="#fff" stroke="#1a1a1a" stroke-width="1.2"/>
<circle cx="374.49" cy="247.50" r="2.33" fill="#fff" stroke="#1a1a1a" stroke-width="1.2"/>
<circle cx="384.59" cy="230.00" r="2.33" fill="#7a7a7a" stroke="#1a1a1a" stroke-width="1.2"/>
<circle cx="384.59" cy="238.00" r="2.33" fill="#7a7a7a" stroke="#1a1a1a" stroke-width="1.2"/>
<circle cx="384.59" cy="247.00" r="2.33" fill="#7a7a7a" stroke="#1a1a1a" stroke-width="1.2"/>
<circle cx="404.46" cy="240.00" r="2.33" fill="#fff" stroke="#1a1a1a" stroke-width="1.2"/>
<circle cx="404.46" cy="245.50" r="2.33" fill="#fff" stroke="#1a1a1a" stroke-width="1.2"/>
<circle cx="404.46" cy="248.75" r="2.33" fill="#fff" stroke="#1a1a1a" stroke-width="1.2"/>
<circle cx="414.56" cy="237.75" r="2.33" fill="#7a7a7a" stroke="#1a1a1a" stroke-width="1.2"/>
<circle cx="414.56" cy="246.25" r="2.33" fill="#7a7a7a" stroke="#1a1a1a" stroke-width="1.2"/>
<circle cx="414.56" cy="254.50" r="2.33" fill="#7a7a7a" stroke="#1a1a1a" stroke-width="1.2"/>
<circle cx="434.43" cy="248.75" r="2.33" fill="#fff" stroke="#1a1a1a" stroke-width="1.2"/>
<circle cx="434.43" cy="252.00" r="2.33" fill="#fff" stroke="#1a1a1a" stroke-width="1.2"/>
<circle cx="434.43" cy="255.00" r="2.33" fill="#fff" stroke="#1a1a1a" stroke-width="1.2"/>
<circle cx="444.53" cy="245.50" r="2.33" fill="#7a7a7a" stroke="#1a1a1a" stroke-width="1.2"/>
<circle cx="444.53" cy="250.00" r="2.33" fill="#7a7a7a" stroke="#1a1a1a" stroke-width="1.2"/>
<circle cx="444.53" cy="253.75" r="2.33" fill="#7a7a7a" stroke="#1a1a1a" stroke-width="1.2"/>
<circle cx="464.40" cy="171.75" r="2.33" fill="#fff" stroke="#1a1a1a" stroke-width="1.2"/>
<circle cx="464.40" cy="176.75" r="2.33" fill="#fff" stroke="#1a1a1a" stroke-width="1.2"/>
<circle cx="464.40" cy="193.75" r="2.33" fill="#fff" stroke="#1a1a1a" stroke-width="1.2"/>
<circle cx="474.50" cy="204.25" r="2.33" fill="#7a7a7a" stroke="#1a1a1a" stroke-width="1.2"/>
<circle cx="474.50" cy="224.50" r="2.33" fill="#7a7a7a" stroke="#1a1a1a" stroke-width="1.2"/>
<circle cx="494.37" cy="254.50" r="2.33" fill="#fff" stroke="#1a1a1a" stroke-width="1.2"/>
<circle cx="494.37" cy="257.50" r="2.33" fill="#fff" stroke="#1a1a1a" stroke-width="1.2"/>
<circle cx="504.47" cy="245.00" r="2.33" fill="#7a7a7a" stroke="#1a1a1a" stroke-width="1.2"/>
<circle cx="504.47" cy="247.50" r="2.33" fill="#7a7a7a" stroke="#1a1a1a" stroke-width="1.2"/>
<circle cx="504.47" cy="251.25" r="2.33" fill="#7a7a7a" stroke="#1a1a1a" stroke-width="1.2"/>
<rect x="308.95" y="371.25" width="10.60" height="33.00" fill="#fff" stroke="#303030" stroke-width="0.9"/>
<rect x="319.55" y="380.00" width="10.70" height="24.25" fill="#d0d0d0" stroke="#303030" stroke-width="0.9"/>
<rect x="338.92" y="375.00" width="10.60" height="29.25" fill="#fff" stroke="#303030" stroke-width="0.9"/>
<rect x="349.52" y="373.50" width="10.70" height="30.75" fill="#d0d0d0" stroke="#303030" stroke-width="0.9"/>
<rect x="368.89" y="376.25" width="10.60" height="28.00" fill="#fff" stroke="#303030" stroke-width="0.9"/>
<rect x="379.49" y="377.00" width="10.70" height="27.25" fill="#d0d0d0" stroke="#303030" stroke-width="0.9"/>
<rect x="398.86" y="361.25" width="10.60" height="43.00" fill="#fff" stroke="#303030" stroke-width="0.9"/>
<rect x="409.46" y="370.50" width="10.70" height="33.75" fill="#d0d0d0" stroke="#303030" stroke-width="0.9"/>
<rect x="428.83" y="381.25" width="10.60" height="23.00" fill="#fff" stroke="#303030" stroke-width="0.9"/>
<rect x="439.43" y="380.00" width="10.70" height="24.25" fill="#d0d0d0" stroke="#303030" stroke-width="0.9"/>
<rect x="458.80" y="365.00" width="10.60" height="39.25" fill="#fff" stroke="#303030" stroke-width="0.9"/>
<rect x="469.40" y="362.00" width="10.70" height="42.25" fill="#d0d0d0" stroke="#303030" stroke-width="0.9"/>
<rect x="488.77" y="382.50" width="10.60" height="21.75" fill="#fff" stroke="#303030" stroke-width="0.9"/>
<rect x="499.37" y="379.50" width="10.70" height="24.75" fill="#d0d0d0" stroke="#303030" stroke-width="0.9"/>
<line x1="299.60" y1="295.00" x2="299.60" y2="404.75" stroke="#1a1a1a" stroke-width="1.0"/>
<line x1="299.10" y1="404.25" x2="520.00" y2="404.25" stroke="#1a1a1a" stroke-width="1.0"/>
<line x1="296.40" y1="404.25" x2="299.60" y2="404.25" stroke="#1a1a1a" stroke-width="1.0"/>
<text x="293.80" y="407.05" font-size="7.8" text-anchor="end" font-weight="normal" >0</text>
<line x1="296.40" y1="376.94" x2="299.60" y2="376.94" stroke="#1a1a1a" stroke-width="1.0"/>
<text x="293.80" y="379.74" font-size="7.8" text-anchor="end" font-weight="normal" >2000</text>
<line x1="296.40" y1="349.62" x2="299.60" y2="349.62" stroke="#1a1a1a" stroke-width="1.0"/>
<text x="293.80" y="352.43" font-size="7.8" text-anchor="end" font-weight="normal" >4000</text>
<line x1="296.40" y1="322.31" x2="299.60" y2="322.31" stroke="#1a1a1a" stroke-width="1.0"/>
<text x="293.80" y="325.11" font-size="7.8" text-anchor="end" font-weight="normal" >6000</text>
<line x1="296.40" y1="295.00" x2="299.60" y2="295.00" stroke="#1a1a1a" stroke-width="1.0"/>
<text x="293.80" y="297.80" font-size="7.8" text-anchor="end" font-weight="normal" >8000</text>
<line x1="319.55" y1="404.25" x2="319.55" y2="407.25" stroke="#1a1a1a" stroke-width="1.0"/>
<line x1="349.52" y1="404.25" x2="349.52" y2="407.25" stroke="#1a1a1a" stroke-width="1.0"/>
<line x1="379.49" y1="404.25" x2="379.49" y2="407.25" stroke="#1a1a1a" stroke-width="1.0"/>
<line x1="409.46" y1="404.25" x2="409.46" y2="407.25" stroke="#1a1a1a" stroke-width="1.0"/>
<line x1="439.43" y1="404.25" x2="439.43" y2="407.25" stroke="#1a1a1a" stroke-width="1.0"/>
<line x1="469.40" y1="404.25" x2="469.40" y2="407.25" stroke="#1a1a1a" stroke-width="1.0"/>
<line x1="499.37" y1="404.25" x2="499.37" y2="407.25" stroke="#1a1a1a" stroke-width="1.0"/>
<circle cx="314.55" cy="356.25" r="2.33" fill="#fff" stroke="#1a1a1a" stroke-width="1.2"/>
<circle cx="314.55" cy="373.75" r="2.33" fill="#fff" stroke="#1a1a1a" stroke-width="1.2"/>
<circle cx="314.55" cy="381.00" r="2.33" fill="#fff" stroke="#1a1a1a" stroke-width="1.2"/>
<circle cx="324.65" cy="373.50" r="2.33" fill="#7a7a7a" stroke="#1a1a1a" stroke-width="1.2"/>
<circle cx="324.65" cy="381.25" r="2.33" fill="#7a7a7a" stroke="#1a1a1a" stroke-width="1.2"/>
<circle cx="324.65" cy="383.25" r="2.33" fill="#7a7a7a" stroke="#1a1a1a" stroke-width="1.2"/>
<circle cx="344.52" cy="368.00" r="2.33" fill="#fff" stroke="#1a1a1a" stroke-width="1.2"/>
<circle cx="344.52" cy="376.25" r="2.33" fill="#fff" stroke="#1a1a1a" stroke-width="1.2"/>
<circle cx="344.52" cy="380.50" r="2.33" fill="#fff" stroke="#1a1a1a" stroke-width="1.2"/>
<circle cx="354.62" cy="370.50" r="2.33" fill="#7a7a7a" stroke="#1a1a1a" stroke-width="1.2"/>
<circle cx="354.62" cy="372.00" r="2.33" fill="#7a7a7a" stroke="#1a1a1a" stroke-width="1.2"/>
<circle cx="354.62" cy="378.75" r="2.33" fill="#7a7a7a" stroke="#1a1a1a" stroke-width="1.2"/>
<circle cx="374.49" cy="366.75" r="2.33" fill="#fff" stroke="#1a1a1a" stroke-width="1.2"/>
<circle cx="374.49" cy="377.00" r="2.33" fill="#fff" stroke="#1a1a1a" stroke-width="1.2"/>
<circle cx="374.49" cy="381.25" r="2.33" fill="#fff" stroke="#1a1a1a" stroke-width="1.2"/>
<circle cx="384.59" cy="373.75" r="2.33" fill="#7a7a7a" stroke="#1a1a1a" stroke-width="1.2"/>
<circle cx="384.59" cy="375.75" r="2.33" fill="#7a7a7a" stroke="#1a1a1a" stroke-width="1.2"/>
<circle cx="384.59" cy="381.25" r="2.33" fill="#7a7a7a" stroke="#1a1a1a" stroke-width="1.2"/>
<circle cx="404.46" cy="310.50" r="2.33" fill="#fff" stroke="#1a1a1a" stroke-width="1.2"/>
<circle cx="404.46" cy="373.00" r="2.33" fill="#fff" stroke="#1a1a1a" stroke-width="1.2"/>
<circle cx="404.46" cy="376.75" r="2.33" fill="#fff" stroke="#1a1a1a" stroke-width="1.2"/>
<circle cx="414.56" cy="360.50" r="2.33" fill="#7a7a7a" stroke="#1a1a1a" stroke-width="1.2"/>
<circle cx="414.56" cy="372.00" r="2.33" fill="#7a7a7a" stroke="#1a1a1a" stroke-width="1.2"/>
<circle cx="414.56" cy="376.25" r="2.33" fill="#7a7a7a" stroke="#1a1a1a" stroke-width="1.2"/>
<circle cx="434.43" cy="376.75" r="2.33" fill="#fff" stroke="#1a1a1a" stroke-width="1.2"/>
<circle cx="434.43" cy="381.25" r="2.33" fill="#fff" stroke="#1a1a1a" stroke-width="1.2"/>
<circle cx="434.43" cy="385.00" r="2.33" fill="#fff" stroke="#1a1a1a" stroke-width="1.2"/>
<circle cx="444.53" cy="372.50" r="2.33" fill="#7a7a7a" stroke="#1a1a1a" stroke-width="1.2"/>
<circle cx="444.53" cy="380.50" r="2.33" fill="#7a7a7a" stroke="#1a1a1a" stroke-width="1.2"/>
<circle cx="444.53" cy="385.00" r="2.33" fill="#7a7a7a" stroke="#1a1a1a" stroke-width="1.2"/>
<circle cx="464.40" cy="361.75" r="2.33" fill="#fff" stroke="#1a1a1a" stroke-width="1.2"/>
<circle cx="464.40" cy="364.25" r="2.33" fill="#fff" stroke="#1a1a1a" stroke-width="1.2"/>
<circle cx="464.40" cy="368.00" r="2.33" fill="#fff" stroke="#1a1a1a" stroke-width="1.2"/>
<circle cx="474.50" cy="355.75" r="2.33" fill="#7a7a7a" stroke="#1a1a1a" stroke-width="1.2"/>
<circle cx="474.50" cy="362.50" r="2.33" fill="#7a7a7a" stroke="#1a1a1a" stroke-width="1.2"/>
<circle cx="474.50" cy="366.25" r="2.33" fill="#7a7a7a" stroke="#1a1a1a" stroke-width="1.2"/>
<circle cx="494.37" cy="380.75" r="2.33" fill="#fff" stroke="#1a1a1a" stroke-width="1.2"/>
<circle cx="494.37" cy="383.25" r="2.33" fill="#fff" stroke="#1a1a1a" stroke-width="1.2"/>
<circle cx="494.37" cy="386.75" r="2.33" fill="#fff" stroke="#1a1a1a" stroke-width="1.2"/>
<circle cx="504.47" cy="375.50" r="2.33" fill="#7a7a7a" stroke="#1a1a1a" stroke-width="1.2"/>
<circle cx="504.47" cy="379.25" r="2.33" fill="#7a7a7a" stroke="#1a1a1a" stroke-width="1.2"/>
<circle cx="504.47" cy="382.50" r="2.33" fill="#7a7a7a" stroke="#1a1a1a" stroke-width="1.2"/>
<text x="71.20" y="414.20" font-size="7.6" text-anchor="middle" font-weight="normal" >MPL</text>
<text x="71.20" y="423.80" font-size="7.6" text-anchor="middle" font-weight="normal" >Alum</text>
<text x="71.20" y="433.40" font-size="7.6" text-anchor="middle" font-weight="normal" >VLP</text>
<text x="101.20" y="414.20" font-size="7.6" text-anchor="middle" font-weight="normal" >MPL</text>
<text x="101.20" y="423.80" font-size="7.6" text-anchor="middle" font-weight="normal" >Alum</text>
<text x="101.20" y="433.40" font-size="7.6" text-anchor="middle" font-weight="normal" >-</text>
<text x="131.20" y="414.20" font-size="7.6" text-anchor="middle" font-weight="normal" >-</text>
<text x="131.20" y="423.80" font-size="7.6" text-anchor="middle" font-weight="normal" >Alum</text>
<text x="131.20" y="433.40" font-size="7.6" text-anchor="middle" font-weight="normal" >VLP</text>
<text x="161.20" y="414.20" font-size="7.6" text-anchor="middle" font-weight="normal" >-</text>
<text x="161.20" y="423.80" font-size="7.6" text-anchor="middle" font-weight="normal" >Alum</text>
<text x="161.20" y="433.40" font-size="7.6" text-anchor="middle" font-weight="normal" >-</text>
<text x="191.20" y="414.20" font-size="7.6" text-anchor="middle" font-weight="normal" >-</text>
<text x="191.20" y="423.80" font-size="7.6" text-anchor="middle" font-weight="normal" >-</text>
<text x="191.20" y="433.40" font-size="7.6" text-anchor="middle" font-weight="normal" >VLP</text>
<text x="221.20" y="414.20" font-size="7.6" text-anchor="middle" font-weight="normal" >MPL</text>
<text x="221.20" y="423.80" font-size="7.6" text-anchor="middle" font-weight="normal" >-</text>
<text x="221.20" y="433.40" font-size="7.6" text-anchor="middle" font-weight="normal" >-</text>
<text x="251.20" y="414.20" font-size="7.6" text-anchor="middle" font-weight="normal" >PBS</text>
<text x="321.95" y="416.40" font-size="7.6" text-anchor="middle" font-weight="normal" >MPL</text>
<text x="321.95" y="426.00" font-size="7.6" text-anchor="middle" font-weight="normal" >Alum</text>
<text x="321.95" y="435.60" font-size="7.6" text-anchor="middle" font-weight="normal" >VLP</text>
<text x="351.92" y="416.40" font-size="7.6" text-anchor="middle" font-weight="normal" >MPL</text>
<text x="351.92" y="426.00" font-size="7.6" text-anchor="middle" font-weight="normal" >Alum</text>
<text x="351.92" y="435.60" font-size="7.6" text-anchor="middle" font-weight="normal" >-</text>
<text x="381.89" y="416.40" font-size="7.6" text-anchor="middle" font-weight="normal" >-</text>
<text x="381.89" y="426.00" font-size="7.6" text-anchor="middle" font-weight="normal" >Alum</text>
<text x="381.89" y="435.60" font-size="7.6" text-anchor="middle" font-weight="normal" >VLP</text>
<text x="411.86" y="416.40" font-size="7.6" text-anchor="middle" font-weight="normal" >-</text>
<text x="411.86" y="426.00" font-size="7.6" text-anchor="middle" font-weight="normal" >Alum</text>
<text x="411.86" y="435.60" font-size="7.6" text-anchor="middle" font-weight="normal" >-</text>
<text x="441.83" y="416.40" font-size="7.6" text-anchor="middle" font-weight="normal" >-</text>
<text x="441.83" y="426.00" font-size="7.6" text-anchor="middle" font-weight="normal" >-</text>
<text x="441.83" y="435.60" font-size="7.6" text-anchor="middle" font-weight="normal" >VLP</text>
<text x="471.80" y="416.40" font-size="7.6" text-anchor="middle" font-weight="normal" >MPL</text>
<text x="471.80" y="426.00" font-size="7.6" text-anchor="middle" font-weight="normal" >-</text>
<text x="471.80" y="435.60" font-size="7.6" text-anchor="middle" font-weight="normal" >-</text>
<text x="501.77" y="416.40" font-size="7.6" text-anchor="middle" font-weight="normal" >PBS</text>
<rect x="138.90" y="39.30" width="17.00" height="6.50" fill="#fff" stroke="#303030" stroke-width="0.9"/>
<text x="160.30" y="45.30" font-size="7.7" text-anchor="start" font-weight="normal" >24h</text>
<rect x="138.90" y="49.40" width="17.00" height="6.50" fill="#d0d0d0" stroke="#303030" stroke-width="0.9"/>
<text x="160.30" y="55.50" font-size="7.7" text-anchor="start" font-weight="normal" >72h</text>
<text x="148.30" y="11.20" font-size="11.9" text-anchor="middle" font-weight="normal" style="stroke-width:0.62px">DCs (CD11c<tspan dy="-5.5" dx="0.4" font-size="6.5" font-weight="bold">+</tspan><tspan dy="5.5">MHCII</tspan><tspan dy="-5.5" dx="0.4" font-size="6.5" font-weight="bold">+</tspan><tspan dy="5.5">)</tspan></text>
<text x="398.50" y="11.00" font-size="11.6" text-anchor="middle" font-weight="normal" style="stroke-width:0.5px">Monocytes (Ly6C<tspan dy="-5.5" dx="0.5" font-size="6">+</tspan><tspan dy="5.5" dx="0.4">CD11b</tspan><tspan dy="-5.5" dx="0.5" font-size="6">+</tspan><tspan dy="5.5" dx="0.4">F4/80</tspan><tspan dy="-5.5" dx="0.5" font-size="6">+</tspan><tspan dy="5.5" dx="0.4">)</tspan></text>
<text x="-0.60" y="16.30" font-size="20.8" text-anchor="start" font-weight="bold" style="stroke-width:0.9px">A</text>
<text transform="translate(-0.3,470.4) scale(0.92,1)" font-size="20.8" font-weight="bold" style="stroke-width:0.9px">B</text>
<text transform="translate(17.4,87.75) rotate(-90)" font-size="11.6" text-anchor="middle" style="stroke-width:0.75px">Cell number x10<tspan dy="-5.8" font-size="7.8">3</tspan><tspan dy="5.8">/LN</tspan></text>
<text transform="translate(17.7,216.1) rotate(-90)" font-size="11.6" text-anchor="middle" style="stroke-width:0.75px">MFI: CD40</text>
<text transform="translate(17.4,349.3) rotate(-90)" font-size="11.6" text-anchor="middle" style="stroke-width:0.75px">MFI: CD86</text>
<text transform="translate(18.2,584.9) rotate(-90)" font-size="11.6" text-anchor="middle" style="stroke-width:0.75px">Cell number x10<tspan dy="-5.8" font-size="7.8">3</tspan><tspan dy="5.8">/LN</tspan></text>
<text transform="translate(146,582.4) rotate(-90)" font-size="11.6" text-anchor="middle" style="stroke-width:0.75px">OVA<tspan dy="-5" font-size="6" font-weight="bold" dx="1.4">+</tspan><tspan dy="5" dx="2.6">cell number x10</tspan><tspan dy="-5.8" font-size="7.8">3</tspan><tspan dy="5.8">/LN</tspan></text>
<text transform="translate(264.4,580.2) rotate(-90)" font-size="11.6" text-anchor="middle" style="stroke-width:0.75px">MFI: OVA<tspan dy="-5" font-size="6" font-weight="bold" dx="1.6">+</tspan><tspan dy="5" dx="2.8">cells</tspan></text>
<rect x="57.50" y="533.70" width="10.00" height="38.80" fill="#fff" stroke="#303030" stroke-width="0.9"/>
<rect x="75.90" y="557.10" width="10.00" height="15.40" fill="#fff" stroke="#303030" stroke-width="0.9"/>
<rect x="94.30" y="503.50" width="10.00" height="69.00" fill="#fff" stroke="#303030" stroke-width="0.9"/>
<rect x="112.70" y="557.90" width="10.00" height="14.60" fill="#fff" stroke="#303030" stroke-width="0.9"/>
<line x1="50.20" y1="463.40" x2="50.20" y2="573.00" stroke="#1a1a1a" stroke-width="1.0"/>
<line x1="49.70" y1="572.50" x2="124.00" y2="572.50" stroke="#1a1a1a" stroke-width="1.0"/>
<line x1="47.00" y1="572.50" x2="50.20" y2="572.50" stroke="#1a1a1a" stroke-width="1.0"/>
<text x="44.40" y="575.30" font-size="7.8" text-anchor="end" font-weight="normal" >0</text>
<line x1="47.00" y1="550.68" x2="50.20" y2="550.68" stroke="#1a1a1a" stroke-width="1.0"/>
<text x="44.40" y="553.48" font-size="7.8" text-anchor="end" font-weight="normal" >20</text>
<line x1="47.00" y1="528.86" x2="50.20" y2="528.86" stroke="#1a1a1a" stroke-width="1.0"/>
<text x="44.40" y="531.66" font-size="7.8" text-anchor="end" font-weight="normal" >40</text>
<line x1="47.00" y1="507.04" x2="50.20" y2="507.04" stroke="#1a1a1a" stroke-width="1.0"/>
<text x="44.40" y="509.84" font-size="7.8" text-anchor="end" font-weight="normal" >60</text>
<line x1="47.00" y1="485.22" x2="50.20" y2="485.22" stroke="#1a1a1a" stroke-width="1.0"/>
<text x="44.40" y="488.02" font-size="7.8" text-anchor="end" font-weight="normal" >80</text>
<line x1="47.00" y1="463.40" x2="50.20" y2="463.40" stroke="#1a1a1a" stroke-width="1.0"/>
<text x="44.40" y="466.20" font-size="7.8" text-anchor="end" font-weight="normal" >100</text>
<line x1="62.50" y1="572.50" x2="62.50" y2="575.50" stroke="#1a1a1a" stroke-width="1.0"/>
<line x1="80.90" y1="572.50" x2="80.90" y2="575.50" stroke="#1a1a1a" stroke-width="1.0"/>
<line x1="99.30" y1="572.50" x2="99.30" y2="575.50" stroke="#1a1a1a" stroke-width="1.0"/>
<line x1="117.70" y1="572.50" x2="117.70" y2="575.50" stroke="#1a1a1a" stroke-width="1.0"/>
<circle cx="62.50" cy="529.70" r="2.33" fill="#fff" stroke="#1a1a1a" stroke-width="1.2"/>
<circle cx="62.50" cy="531.50" r="2.33" fill="#fff" stroke="#1a1a1a" stroke-width="1.2"/>
<circle cx="62.50" cy="540.20" r="2.33" fill="#fff" stroke="#1a1a1a" stroke-width="1.2"/>
<circle cx="80.90" cy="546.60" r="2.33" fill="#fff" stroke="#1a1a1a" stroke-width="1.2"/>
<circle cx="80.90" cy="555.80" r="2.33" fill="#fff" stroke="#1a1a1a" stroke-width="1.2"/>
<circle cx="80.90" cy="557.70" r="2.33" fill="#fff" stroke="#1a1a1a" stroke-width="1.2"/>
<circle cx="80.90" cy="564.70" r="2.33" fill="#fff" stroke="#1a1a1a" stroke-width="1.2"/>
<circle cx="99.30" cy="492.50" r="2.33" fill="#fff" stroke="#1a1a1a" stroke-width="1.2"/>
<circle cx="99.30" cy="495.70" r="2.33" fill="#fff" stroke="#1a1a1a" stroke-width="1.2"/>
<circle cx="99.30" cy="499.00" r="2.33" fill="#fff" stroke="#1a1a1a" stroke-width="1.2"/>
<circle cx="99.30" cy="522.40" r="2.33" fill="#fff" stroke="#1a1a1a" stroke-width="1.2"/>
<circle cx="117.70" cy="552.50" r="2.33" fill="#fff" stroke="#1a1a1a" stroke-width="1.2"/>
<circle cx="117.70" cy="557.70" r="2.33" fill="#fff" stroke="#1a1a1a" stroke-width="1.2"/>
<circle cx="117.70" cy="560.60" r="2.33" fill="#fff" stroke="#1a1a1a" stroke-width="1.2"/>
<rect x="57.50" y="675.60" width="10.00" height="27.20" fill="#fff" stroke="#303030" stroke-width="0.9"/>
<rect x="75.90" y="698.50" width="10.00" height="4.30" fill="#fff" stroke="#303030" stroke-width="0.9"/>
<rect x="94.30" y="661.60" width="10.00" height="41.20" fill="#fff" stroke="#303030" stroke-width="0.9"/>
<rect x="112.70" y="698.50" width="10.00" height="4.30" fill="#fff" stroke="#303030" stroke-width="0.9"/>
<line x1="50.20" y1="592.90" x2="50.20" y2="703.30" stroke="#1a1a1a" stroke-width="1.0"/>
<line x1="49.70" y1="702.80" x2="124.00" y2="702.80" stroke="#1a1a1a" stroke-width="1.0"/>
<line x1="47.00" y1="702.80" x2="50.20" y2="702.80" stroke="#1a1a1a" stroke-width="1.0"/>
<text x="44.40" y="705.60" font-size="7.8" text-anchor="end" font-weight="normal" >0</text>
<line x1="47.00" y1="680.82" x2="50.20" y2="680.82" stroke="#1a1a1a" stroke-width="1.0"/>
<text x="44.40" y="683.62" font-size="7.8" text-anchor="end" font-weight="normal" >20</text>
<line x1="47.00" y1="658.84" x2="50.20" y2="658.84" stroke="#1a1a1a" stroke-width="1.0"/>
<text x="44.40" y="661.64" font-size="7.8" text-anchor="end" font-weight="normal" >40</text>
<line x1="47.00" y1="636.86" x2="50.20" y2="636.86" stroke="#1a1a1a" stroke-width="1.0"/>
<text x="44.40" y="639.66" font-size="7.8" text-anchor="end" font-weight="normal" >60</text>
<line x1="47.00" y1="614.88" x2="50.20" y2="614.88" stroke="#1a1a1a" stroke-width="1.0"/>
<text x="44.40" y="617.68" font-size="7.8" text-anchor="end" font-weight="normal" >80</text>
<line x1="47.00" y1="592.90" x2="50.20" y2="592.90" stroke="#1a1a1a" stroke-width="1.0"/>
<text x="44.40" y="595.70" font-size="7.8" text-anchor="end" font-weight="normal" >100</text>
<line x1="62.50" y1="702.80" x2="62.50" y2="705.80" stroke="#1a1a1a" stroke-width="1.0"/>
<line x1="80.90" y1="702.80" x2="80.90" y2="705.80" stroke="#1a1a1a" stroke-width="1.0"/>
<line x1="99.30" y1="702.80" x2="99.30" y2="705.80" stroke="#1a1a1a" stroke-width="1.0"/>
<line x1="117.70" y1="702.80" x2="117.70" y2="705.80" stroke="#1a1a1a" stroke-width="1.0"/>
<circle cx="62.50" cy="667.80" r="2.33" fill="#fff" stroke="#1a1a1a" stroke-width="1.2"/>
<circle cx="62.50" cy="676.10" r="2.33" fill="#fff" stroke="#1a1a1a" stroke-width="1.2"/>
<circle cx="62.50" cy="678.30" r="2.33" fill="#fff" stroke="#1a1a1a" stroke-width="1.2"/>
<circle cx="62.50" cy="681.80" r="2.33" fill="#fff" stroke="#1a1a1a" stroke-width="1.2"/>
<circle cx="80.90" cy="695.00" r="2.33" fill="#fff" stroke="#1a1a1a" stroke-width="1.2"/>
<circle cx="80.90" cy="697.70" r="2.33" fill="#fff" stroke="#1a1a1a" stroke-width="1.2"/>
<circle cx="80.90" cy="700.40" r="2.33" fill="#fff" stroke="#1a1a1a" stroke-width="1.2"/>
<circle cx="99.30" cy="656.70" r="2.33" fill="#fff" stroke="#1a1a1a" stroke-width="1.2"/>
<circle cx="99.30" cy="658.60" r="2.33" fill="#fff" stroke="#1a1a1a" stroke-width="1.2"/>
<circle cx="99.30" cy="660.00" r="2.33" fill="#fff" stroke="#1a1a1a" stroke-width="1.2"/>
<circle cx="99.30" cy="671.50" r="2.33" fill="#fff" stroke="#1a1a1a" stroke-width="1.2"/>
<circle cx="117.70" cy="696.60" r="2.33" fill="#fff" stroke="#1a1a1a" stroke-width="1.2"/>
<circle cx="117.70" cy="698.50" r="2.33" fill="#fff" stroke="#1a1a1a" stroke-width="1.2"/>
<circle cx="117.70" cy="700.40" r="2.33" fill="#fff" stroke="#1a1a1a" stroke-width="1.2"/>
<rect x="175.10" y="541.20" width="10.00" height="29.90" fill="#fff" stroke="#303030" stroke-width="0.9"/>
<rect x="193.50" y="552.50" width="10.00" height="18.60" fill="#fff" stroke="#303030" stroke-width="0.9"/>
<rect x="211.90" y="523.50" width="10.00" height="47.60" fill="#fff" stroke="#303030" stroke-width="0.9"/>
<rect x="230.30" y="559.30" width="10.00" height="11.80" fill="#fff" stroke="#303030" stroke-width="0.9"/>
<line x1="167.30" y1="461.50" x2="167.30" y2="571.60" stroke="#1a1a1a" stroke-width="1.0"/>
<line x1="166.80" y1="571.10" x2="241.00" y2="571.10" stroke="#1a1a1a" stroke-width="1.0"/>
<line x1="164.10" y1="571.10" x2="167.30" y2="571.10" stroke="#1a1a1a" stroke-width="1.0"/>
<text x="161.50" y="573.90" font-size="7.8" text-anchor="end" font-weight="normal" >0</text>
<line x1="164.10" y1="549.18" x2="167.30" y2="549.18" stroke="#1a1a1a" stroke-width="1.0"/>
<text x="161.50" y="551.98" font-size="7.8" text-anchor="end" font-weight="normal" >2</text>
<line x1="164.10" y1="527.26" x2="167.30" y2="527.26" stroke="#1a1a1a" stroke-width="1.0"/>
<text x="161.50" y="530.06" font-size="7.8" text-anchor="end" font-weight="normal" >4</text>
<line x1="164.10" y1="505.34" x2="167.30" y2="505.34" stroke="#1a1a1a" stroke-width="1.0"/>
<text x="161.50" y="508.14" font-size="7.8" text-anchor="end" font-weight="normal" >6</text>
<line x1="164.10" y1="483.42" x2="167.30" y2="483.42" stroke="#1a1a1a" stroke-width="1.0"/>
<text x="161.50" y="486.22" font-size="7.8" text-anchor="end" font-weight="normal" >8</text>
<line x1="164.10" y1="461.50" x2="167.30" y2="461.50" stroke="#1a1a1a" stroke-width="1.0"/>
<text x="161.50" y="464.30" font-size="7.8" text-anchor="end" font-weight="normal" >10</text>
<line x1="180.10" y1="571.10" x2="180.10" y2="574.10" stroke="#1a1a1a" stroke-width="1.0"/>
<line x1="198.50" y1="571.10" x2="198.50" y2="574.10" stroke="#1a1a1a" stroke-width="1.0"/>
<line x1="216.90" y1="571.10" x2="216.90" y2="574.10" stroke="#1a1a1a" stroke-width="1.0"/>
<line x1="235.30" y1="571.10" x2="235.30" y2="574.10" stroke="#1a1a1a" stroke-width="1.0"/>
<circle cx="180.10" cy="536.40" r="2.33" fill="#fff" stroke="#1a1a1a" stroke-width="1.2"/>
<circle cx="180.10" cy="538.00" r="2.33" fill="#fff" stroke="#1a1a1a" stroke-width="1.2"/>
<circle cx="180.10" cy="548.20" r="2.33" fill="#fff" stroke="#1a1a1a" stroke-width="1.2"/>
<circle cx="198.50" cy="538.30" r="2.33" fill="#fff" stroke="#1a1a1a" stroke-width="1.2"/>
<circle cx="198.50" cy="550.40" r="2.33" fill="#fff" stroke="#1a1a1a" stroke-width="1.2"/>
<circle cx="198.50" cy="562.00" r="2.33" fill="#fff" stroke="#1a1a1a" stroke-width="1.2"/>
<circle cx="216.90" cy="517.50" r="2.33" fill="#fff" stroke="#1a1a1a" stroke-width="1.2"/>
<circle cx="216.90" cy="520.80" r="2.33" fill="#fff" stroke="#1a1a1a" stroke-width="1.2"/>
<circle cx="216.90" cy="524.30" r="2.33" fill="#fff" stroke="#1a1a1a" stroke-width="1.2"/>
<circle cx="216.90" cy="532.40" r="2.33" fill="#fff" stroke="#1a1a1a" stroke-width="1.2"/>
<circle cx="235.30" cy="555.80" r="2.33" fill="#fff" stroke="#1a1a1a" stroke-width="1.2"/>
<circle cx="235.30" cy="557.90" r="2.33" fill="#fff" stroke="#1a1a1a" stroke-width="1.2"/>
<circle cx="235.30" cy="561.20" r="2.33" fill="#fff" stroke="#1a1a1a" stroke-width="1.2"/>
<rect x="175.10" y="648.10" width="10.00" height="55.20" fill="#fff" stroke="#303030" stroke-width="0.9"/>
<rect x="193.50" y="696.30" width="10.00" height="7.00" fill="#fff" stroke="#303030" stroke-width="0.9"/>
<rect x="211.90" y="633.00" width="10.00" height="70.30" fill="#fff" stroke="#303030" stroke-width="0.9"/>
<rect x="230.30" y="699.80" width="10.00" height="3.50" fill="#fff" stroke="#303030" stroke-width="0.9"/>
<line x1="167.30" y1="594.00" x2="167.30" y2="703.80" stroke="#1a1a1a" stroke-width="1.0"/>
<line x1="166.80" y1="703.30" x2="241.00" y2="703.30" stroke="#1a1a1a" stroke-width="1.0"/>
<line x1="164.10" y1="703.30" x2="167.30" y2="703.30" stroke="#1a1a1a" stroke-width="1.0"/>
<text x="161.50" y="706.10" font-size="7.8" text-anchor="end" font-weight="normal" >0</text>
<line x1="164.10" y1="681.44" x2="167.30" y2="681.44" stroke="#1a1a1a" stroke-width="1.0"/>
<text x="161.50" y="684.24" font-size="7.8" text-anchor="end" font-weight="normal" >2</text>
<line x1="164.10" y1="659.58" x2="167.30" y2="659.58" stroke="#1a1a1a" stroke-width="1.0"/>
<text x="161.50" y="662.38" font-size="7.8" text-anchor="end" font-weight="normal" >4</text>
<line x1="164.10" y1="637.72" x2="167.30" y2="637.72" stroke="#1a1a1a" stroke-width="1.0"/>
<text x="161.50" y="640.52" font-size="7.8" text-anchor="end" font-weight="normal" >6</text>
<line x1="164.10" y1="615.86" x2="167.30" y2="615.86" stroke="#1a1a1a" stroke-width="1.0"/>
<text x="161.50" y="618.66" font-size="7.8" text-anchor="end" font-weight="normal" >8</text>
<line x1="164.10" y1="594.00" x2="167.30" y2="594.00" stroke="#1a1a1a" stroke-width="1.0"/>
<text x="161.50" y="596.80" font-size="7.8" text-anchor="end" font-weight="normal" >10</text>
<line x1="180.10" y1="703.30" x2="180.10" y2="706.30" stroke="#1a1a1a" stroke-width="1.0"/>
<line x1="198.50" y1="703.30" x2="198.50" y2="706.30" stroke="#1a1a1a" stroke-width="1.0"/>
<line x1="216.90" y1="703.30" x2="216.90" y2="706.30" stroke="#1a1a1a" stroke-width="1.0"/>
<line x1="235.30" y1="703.30" x2="235.30" y2="706.30" stroke="#1a1a1a" stroke-width="1.0"/>
<circle cx="180.10" cy="628.50" r="2.33" fill="#fff" stroke="#1a1a1a" stroke-width="1.2"/>
<circle cx="180.10" cy="645.40" r="2.33" fill="#fff" stroke="#1a1a1a" stroke-width="1.2"/>
<circle cx="180.10" cy="665.60" r="2.33" fill="#fff" stroke="#1a1a1a" stroke-width="1.2"/>
<circle cx="198.50" cy="682.60" r="2.33" fill="#fff" stroke="#1a1a1a" stroke-width="1.2"/>
<circle cx="198.50" cy="691.70" r="2.33" fill="#fff" stroke="#1a1a1a" stroke-width="1.2"/>
<circle cx="198.50" cy="697.70" r="2.33" fill="#fff" stroke="#1a1a1a" stroke-width="1.2"/>
<circle cx="198.50" cy="701.70" r="2.33" fill="#fff" stroke="#1a1a1a" stroke-width="1.2"/>
<circle cx="216.90" cy="621.20" r="2.33" fill="#fff" stroke="#1a1a1a" stroke-width="1.2"/>
<circle cx="216.90" cy="630.60" r="2.33" fill="#fff" stroke="#1a1a1a" stroke-width="1.2"/>
<circle cx="216.90" cy="636.50" r="2.33" fill="#fff" stroke="#1a1a1a" stroke-width="1.2"/>
<circle cx="216.90" cy="640.60" r="2.33" fill="#fff" stroke="#1a1a1a" stroke-width="1.2"/>
<circle cx="235.30" cy="697.10" r="2.33" fill="#fff" stroke="#1a1a1a" stroke-width="1.2"/>
<circle cx="235.30" cy="699.30" r="2.33" fill="#fff" stroke="#1a1a1a" stroke-width="1.2"/>
<circle cx="235.30" cy="701.70" r="2.33" fill="#fff" stroke="#1a1a1a" stroke-width="1.2"/>
<rect x="309.70" y="507.40" width="8.20" height="63.00" fill="#fff" stroke="#303030" stroke-width="0.9"/>
<rect x="317.90" y="487.20" width="7.70" height="83.20" fill="#d0d0d0" stroke="#303030" stroke-width="0.9"/>
<rect x="335.12" y="542.00" width="8.20" height="28.40" fill="#fff" stroke="#303030" stroke-width="0.9"/>
<rect x="343.32" y="528.40" width="7.70" height="42.00" fill="#d0d0d0" stroke="#303030" stroke-width="0.9"/>
<rect x="360.54" y="520.00" width="8.20" height="50.40" fill="#fff" stroke="#303030" stroke-width="0.9"/>
<rect x="368.74" y="492.80" width="7.70" height="77.60" fill="#d0d0d0" stroke="#303030" stroke-width="0.9"/>
<rect x="385.96" y="540.20" width="8.20" height="30.20" fill="#fff" stroke="#303030" stroke-width="0.9"/>
<rect x="394.16" y="541.00" width="7.70" height="29.40" fill="#d0d0d0" stroke="#303030" stroke-width="0.9"/>
<line x1="300.50" y1="460.80" x2="300.50" y2="570.90" stroke="#1a1a1a" stroke-width="1.0"/>
<line x1="300.00" y1="570.40" x2="404.00" y2="570.40" stroke="#1a1a1a" stroke-width="1.0"/>
<line x1="297.30" y1="570.40" x2="300.50" y2="570.40" stroke="#1a1a1a" stroke-width="1.0"/>
<text x="294.70" y="573.20" font-size="7.8" text-anchor="end" font-weight="normal" >0</text>
<line x1="297.30" y1="554.74" x2="300.50" y2="554.74" stroke="#1a1a1a" stroke-width="1.0"/>
<text x="294.70" y="557.54" font-size="7.8" text-anchor="end" font-weight="normal" >10000</text>
<line x1="297.30" y1="539.09" x2="300.50" y2="539.09" stroke="#1a1a1a" stroke-width="1.0"/>
<text x="294.70" y="541.89" font-size="7.8" text-anchor="end" font-weight="normal" >20000</text>
<line x1="297.30" y1="523.43" x2="300.50" y2="523.43" stroke="#1a1a1a" stroke-width="1.0"/>
<text x="294.70" y="526.23" font-size="7.8" text-anchor="end" font-weight="normal" >30000</text>
<line x1="297.30" y1="507.77" x2="300.50" y2="507.77" stroke="#1a1a1a" stroke-width="1.0"/>
<text x="294.70" y="510.57" font-size="7.8" text-anchor="end" font-weight="normal" >40000</text>
<line x1="297.30" y1="492.11" x2="300.50" y2="492.11" stroke="#1a1a1a" stroke-width="1.0"/>
<text x="294.70" y="494.91" font-size="7.8" text-anchor="end" font-weight="normal" >50000</text>
<line x1="297.30" y1="476.46" x2="300.50" y2="476.46" stroke="#1a1a1a" stroke-width="1.0"/>
<text x="294.70" y="479.26" font-size="7.8" text-anchor="end" font-weight="normal" >60000</text>
<line x1="297.30" y1="460.80" x2="300.50" y2="460.80" stroke="#1a1a1a" stroke-width="1.0"/>
<text x="294.70" y="463.60" font-size="7.8" text-anchor="end" font-weight="normal" >70000</text>
<line x1="317.90" y1="570.40" x2="317.90" y2="573.40" stroke="#1a1a1a" stroke-width="1.0"/>
<line x1="343.32" y1="570.40" x2="343.32" y2="573.40" stroke="#1a1a1a" stroke-width="1.0"/>
<line x1="368.74" y1="570.40" x2="368.74" y2="573.40" stroke="#1a1a1a" stroke-width="1.0"/>
<line x1="394.16" y1="570.40" x2="394.16" y2="573.40" stroke="#1a1a1a" stroke-width="1.0"/>
<circle cx="313.90" cy="503.80" r="2.33" fill="#fff" stroke="#1a1a1a" stroke-width="1.2"/>
<circle cx="313.90" cy="511.90" r="2.33" fill="#fff" stroke="#1a1a1a" stroke-width="1.2"/>
<circle cx="322.50" cy="480.50" r="2.33" fill="#7a7a7a" stroke="#1a1a1a" stroke-width="1.2"/>
<circle cx="322.50" cy="487.60" r="2.33" fill="#7a7a7a" stroke="#1a1a1a" stroke-width="1.2"/>
<circle cx="322.50" cy="489.60" r="2.33" fill="#7a7a7a" stroke="#1a1a1a" stroke-width="1.2"/>
<circle cx="322.50" cy="491.80" r="2.33" fill="#7a7a7a" stroke="#1a1a1a" stroke-width="1.2"/>
<circle cx="339.32" cy="538.00" r="2.33" fill="#fff" stroke="#1a1a1a" stroke-width="1.2"/>
<circle cx="339.32" cy="541.50" r="2.33" fill="#fff" stroke="#1a1a1a" stroke-width="1.2"/>
<circle cx="339.32" cy="545.30" r="2.33" fill="#fff" stroke="#1a1a1a" stroke-width="1.2"/>
<circle cx="347.92" cy="518.70" r="2.33" fill="#7a7a7a" stroke="#1a1a1a" stroke-width="1.2"/>
<circle cx="347.92" cy="526.50" r="2.33" fill="#7a7a7a" stroke="#1a1a1a" stroke-width="1.2"/>
<circle cx="347.92" cy="530.30" r="2.33" fill="#7a7a7a" stroke="#1a1a1a" stroke-width="1.2"/>
<circle cx="347.92" cy="533.70" r="2.33" fill="#7a7a7a" stroke="#1a1a1a" stroke-width="1.2"/>
<circle cx="364.74" cy="508.60" r="2.33" fill="#fff" stroke="#1a1a1a" stroke-width="1.2"/>
<circle cx="364.74" cy="518.50" r="2.33" fill="#fff" stroke="#1a1a1a" stroke-width="1.2"/>
<circle cx="364.74" cy="525.10" r="2.33" fill="#fff" stroke="#1a1a1a" stroke-width="1.2"/>
<circle cx="373.34" cy="476.90" r="2.33" fill="#7a7a7a" stroke="#1a1a1a" stroke-width="1.2"/>
<circle cx="373.34" cy="494.20" r="2.33" fill="#7a7a7a" stroke="#1a1a1a" stroke-width="1.2"/>
<circle cx="373.34" cy="496.80" r="2.33" fill="#7a7a7a" stroke="#1a1a1a" stroke-width="1.2"/>
<circle cx="373.34" cy="499.70" r="2.33" fill="#7a7a7a" stroke="#1a1a1a" stroke-width="1.2"/>
<circle cx="390.16" cy="534.60" r="2.33" fill="#fff" stroke="#1a1a1a" stroke-width="1.2"/>
<circle cx="390.16" cy="540.50" r="2.33" fill="#fff" stroke="#1a1a1a" stroke-width="1.2"/>
<circle cx="390.16" cy="544.60" r="2.33" fill="#fff" stroke="#1a1a1a" stroke-width="1.2"/>
<circle cx="398.76" cy="534.40" r="2.33" fill="#7a7a7a" stroke="#1a1a1a" stroke-width="1.2"/>
<circle cx="398.76" cy="539.00" r="2.33" fill="#7a7a7a" stroke="#1a1a1a" stroke-width="1.2"/>
<circle cx="398.76" cy="543.80" r="2.33" fill="#7a7a7a" stroke="#1a1a1a" stroke-width="1.2"/>
<circle cx="398.76" cy="548.20" r="2.33" fill="#7a7a7a" stroke="#1a1a1a" stroke-width="1.2"/>
<rect x="309.70" y="626.90" width="8.20" height="78.60" fill="#fff" stroke="#303030" stroke-width="0.9"/>
<rect x="317.90" y="636.80" width="7.70" height="68.70" fill="#d0d0d0" stroke="#303030" stroke-width="0.9"/>
<rect x="335.12" y="670.30" width="8.20" height="35.20" fill="#fff" stroke="#303030" stroke-width="0.9"/>
<rect x="343.32" y="666.00" width="7.70" height="39.50" fill="#d0d0d0" stroke="#303030" stroke-width="0.9"/>
<rect x="360.54" y="621.20" width="8.20" height="84.30" fill="#fff" stroke="#303030" stroke-width="0.9"/>
<rect x="368.74" y="634.80" width="7.70" height="70.70" fill="#d0d0d0" stroke="#303030" stroke-width="0.9"/>
<rect x="385.96" y="670.90" width="8.20" height="34.60" fill="#fff" stroke="#303030" stroke-width="0.9"/>
<rect x="394.16" y="657.90" width="7.70" height="47.60" fill="#d0d0d0" stroke="#303030" stroke-width="0.9"/>
<line x1="300.50" y1="595.90" x2="300.50" y2="706.00" stroke="#1a1a1a" stroke-width="1.0"/>
<line x1="300.00" y1="705.50" x2="404.00" y2="705.50" stroke="#1a1a1a" stroke-width="1.0"/>
<line x1="297.30" y1="705.50" x2="300.50" y2="705.50" stroke="#1a1a1a" stroke-width="1.0"/>
<text x="294.70" y="708.30" font-size="7.8" text-anchor="end" font-weight="normal" >0</text>
<line x1="297.30" y1="687.23" x2="300.50" y2="687.23" stroke="#1a1a1a" stroke-width="1.0"/>
<text x="294.70" y="690.03" font-size="7.8" text-anchor="end" font-weight="normal" >5000</text>
<line x1="297.30" y1="668.97" x2="300.50" y2="668.97" stroke="#1a1a1a" stroke-width="1.0"/>
<text x="294.70" y="671.77" font-size="7.8" text-anchor="end" font-weight="normal" >10000</text>
<line x1="297.30" y1="650.70" x2="300.50" y2="650.70" stroke="#1a1a1a" stroke-width="1.0"/>
<text x="294.70" y="653.50" font-size="7.8" text-anchor="end" font-weight="normal" >15000</text>
<line x1="297.30" y1="632.43" x2="300.50" y2="632.43" stroke="#1a1a1a" stroke-width="1.0"/>
<text x="294.70" y="635.23" font-size="7.8" text-anchor="end" font-weight="normal" >20000</text>
<line x1="297.30" y1="614.17" x2="300.50" y2="614.17" stroke="#1a1a1a" stroke-width="1.0"/>
<text x="294.70" y="616.97" font-size="7.8" text-anchor="end" font-weight="normal" >25000</text>
<line x1="297.30" y1="595.90" x2="300.50" y2="595.90" stroke="#1a1a1a" stroke-width="1.0"/>
<text x="294.70" y="598.70" font-size="7.8" text-anchor="end" font-weight="normal" >30000</text>
<line x1="317.90" y1="705.50" x2="317.90" y2="708.50" stroke="#1a1a1a" stroke-width="1.0"/>
<line x1="343.32" y1="705.50" x2="343.32" y2="708.50" stroke="#1a1a1a" stroke-width="1.0"/>
<line x1="368.74" y1="705.50" x2="368.74" y2="708.50" stroke="#1a1a1a" stroke-width="1.0"/>
<line x1="394.16" y1="705.50" x2="394.16" y2="708.50" stroke="#1a1a1a" stroke-width="1.0"/>
<circle cx="313.90" cy="618.40" r="2.33" fill="#fff" stroke="#1a1a1a" stroke-width="1.2"/>
<circle cx="313.90" cy="625.50" r="2.33" fill="#fff" stroke="#1a1a1a" stroke-width="1.2"/>
<circle cx="313.90" cy="635.70" r="2.33" fill="#fff" stroke="#1a1a1a" stroke-width="1.2"/>
<circle cx="322.50" cy="631.30" r="2.33" fill="#7a7a7a" stroke="#1a1a1a" stroke-width="1.2"/>
<circle cx="322.50" cy="636.20" r="2.33" fill="#7a7a7a" stroke="#1a1a1a" stroke-width="1.2"/>
<circle cx="322.50" cy="639.10" r="2.33" fill="#7a7a7a" stroke="#1a1a1a" stroke-width="1.2"/>
<circle cx="322.50" cy="642.00" r="2.33" fill="#7a7a7a" stroke="#1a1a1a" stroke-width="1.2"/>
<circle cx="339.32" cy="650.70" r="2.33" fill="#fff" stroke="#1a1a1a" stroke-width="1.2"/>
<circle cx="339.32" cy="673.70" r="2.33" fill="#fff" stroke="#1a1a1a" stroke-width="1.2"/>
<circle cx="339.32" cy="675.20" r="2.33" fill="#fff" stroke="#1a1a1a" stroke-width="1.2"/>
<circle cx="347.92" cy="650.70" r="2.33" fill="#7a7a7a" stroke="#1a1a1a" stroke-width="1.2"/>
<circle cx="347.92" cy="666.50" r="2.33" fill="#7a7a7a" stroke="#1a1a1a" stroke-width="1.2"/>
<circle cx="347.92" cy="668.80" r="2.33" fill="#7a7a7a" stroke="#1a1a1a" stroke-width="1.2"/>
<circle cx="347.92" cy="673.70" r="2.33" fill="#7a7a7a" stroke="#1a1a1a" stroke-width="1.2"/>
<circle cx="364.74" cy="607.70" r="2.33" fill="#fff" stroke="#1a1a1a" stroke-width="1.2"/>
<circle cx="364.74" cy="622.70" r="2.33" fill="#fff" stroke="#1a1a1a" stroke-width="1.2"/>
<circle cx="364.74" cy="626.10" r="2.33" fill="#fff" stroke="#1a1a1a" stroke-width="1.2"/>
<circle cx="373.34" cy="626.70" r="2.33" fill="#7a7a7a" stroke="#1a1a1a" stroke-width="1.2"/>
<circle cx="373.34" cy="630.50" r="2.33" fill="#7a7a7a" stroke="#1a1a1a" stroke-width="1.2"/>
<circle cx="373.34" cy="634.80" r="2.33" fill="#7a7a7a" stroke="#1a1a1a" stroke-width="1.2"/>
<circle cx="373.34" cy="639.10" r="2.33" fill="#7a7a7a" stroke="#1a1a1a" stroke-width="1.2"/>
<circle cx="373.34" cy="642.90" r="2.33" fill="#7a7a7a" stroke="#1a1a1a" stroke-width="1.2"/>
<circle cx="390.16" cy="663.60" r="2.33" fill="#fff" stroke="#1a1a1a" stroke-width="1.2"/>
<circle cx="390.16" cy="669.70" r="2.33" fill="#fff" stroke="#1a1a1a" stroke-width="1.2"/>
<circle cx="390.16" cy="678.00" r="2.33" fill="#fff" stroke="#1a1a1a" stroke-width="1.2"/>
<circle cx="398.76" cy="650.00" r="2.33" fill="#7a7a7a" stroke="#1a1a1a" stroke-width="1.2"/>
<circle cx="398.76" cy="654.40" r="2.33" fill="#7a7a7a" stroke="#1a1a1a" stroke-width="1.2"/>
<circle cx="398.76" cy="658.70" r="2.33" fill="#7a7a7a" stroke="#1a1a1a" stroke-width="1.2"/>
<circle cx="398.76" cy="665.50" r="2.33" fill="#7a7a7a" stroke="#1a1a1a" stroke-width="1.2"/>
<rect x="81.00" y="472.90" width="17.30" height="6.10" fill="#fff" stroke="#303030" stroke-width="0.9"/>
<text x="102.20" y="478.40" font-size="7.7" text-anchor="start" font-weight="normal" >24h</text>
<rect x="327.20" y="463.30" width="17.40" height="6.30" fill="#fff" stroke="#303030" stroke-width="0.9"/>
<text x="348.70" y="469.40" font-size="7.9" text-anchor="start" font-weight="normal" >CD40</text>
<rect x="327.20" y="473.10" width="17.40" height="6.40" fill="#d0d0d0" stroke="#303030" stroke-width="0.9"/>
<text x="348.70" y="479.40" font-size="7.9" text-anchor="start" font-weight="normal" >CD86</text>
<text x="62.50" y="715.70" font-size="7.7" text-anchor="middle" font-weight="normal" >MPL</text>
<text x="62.50" y="725.30" font-size="7.7" text-anchor="middle" font-weight="normal" >Alum</text>
<text x="62.50" y="734.90" font-size="7.7" text-anchor="middle" font-weight="normal" >OVA</text>
<text x="80.90" y="715.70" font-size="7.7" text-anchor="middle" font-weight="normal" >-</text>
<text x="80.90" y="725.30" font-size="7.7" text-anchor="middle" font-weight="normal" >Alum</text>
<text x="80.90" y="734.90" font-size="7.7" text-anchor="middle" font-weight="normal" >OVA</text>
<text x="99.30" y="715.70" font-size="7.7" text-anchor="middle" font-weight="normal" >MPL</text>
<text x="99.30" y="725.30" font-size="7.7" text-anchor="middle" font-weight="normal" >-</text>
<text x="99.30" y="734.90" font-size="7.7" text-anchor="middle" font-weight="normal" >OVA</text>
<text x="117.70" y="715.70" font-size="7.7" text-anchor="middle" font-weight="normal" >-</text>
<text x="117.70" y="725.30" font-size="7.7" text-anchor="middle" font-weight="normal" >-</text>
<text x="117.70" y="734.90" font-size="7.7" text-anchor="middle" font-weight="normal" >OVA</text>
<text x="180.10" y="715.70" font-size="7.7" text-anchor="middle" font-weight="normal" >MPL</text>
<text x="180.10" y="725.30" font-size="7.7" text-anchor="middle" font-weight="normal" >Alum</text>
<text x="180.10" y="734.90" font-size="7.7" text-anchor="middle" font-weight="normal" >OVA</text>
<text x="198.50" y="715.70" font-size="7.7" text-anchor="middle" font-weight="normal" >-</text>
<text x="198.50" y="725.30" font-size="7.7" text-anchor="middle" font-weight="normal" >Alum</text>
<text x="198.50" y="734.90" font-size="7.7" text-anchor="middle" font-weight="normal" >OVA</text>
<text x="216.90" y="715.70" font-size="7.7" text-anchor="middle" font-weight="normal" >MPL</text>
<text x="216.90" y="725.30" font-size="7.7" text-anchor="middle" font-weight="normal" >-</text>
<text x="216.90" y="734.90" font-size="7.7" text-anchor="middle" font-weight="normal" >OVA</text>
<text x="235.30" y="715.70" font-size="7.7" text-anchor="middle" font-weight="normal" >-</text>
<text x="235.30" y="725.30" font-size="7.7" text-anchor="middle" font-weight="normal" >-</text>
<text x="235.30" y="734.90" font-size="7.7" text-anchor="middle" font-weight="normal" >OVA</text>
<text x="319.00" y="717.60" font-size="7.6" text-anchor="middle" font-weight="normal" >MPL</text>
<text x="319.00" y="727.30" font-size="7.6" text-anchor="middle" font-weight="normal" >Alum</text>
<text x="319.00" y="737.00" font-size="7.6" text-anchor="middle" font-weight="normal" >OVA</text>
<text x="344.42" y="717.60" font-size="7.6" text-anchor="middle" font-weight="normal" >-</text>
<text x="344.42" y="727.30" font-size="7.6" text-anchor="middle" font-weight="normal" >Alum</text>
<text x="344.42" y="737.00" font-size="7.6" text-anchor="middle" font-weight="normal" >OVA</text>
<text x="369.84" y="717.60" font-size="7.6" text-anchor="middle" font-weight="normal" >MPL</text>
<text x="369.84" y="727.30" font-size="7.6" text-anchor="middle" font-weight="normal" >-</text>
<text x="369.84" y="737.00" font-size="7.6" text-anchor="middle" font-weight="normal" >OVA</text>
<text x="395.26" y="717.60" font-size="7.6" text-anchor="middle" font-weight="normal" >-</text>
<text x="395.26" y="727.30" font-size="7.6" text-anchor="middle" font-weight="normal" >-</text>
<text x="395.26" y="737.00" font-size="7.6" text-anchor="middle" font-weight="normal" >OVA</text>
<text x="432.20" y="512.40" font-size="11.4" text-anchor="start" font-weight="normal" style="stroke-width:0.7px">DCs</text>
<text x="432.10" y="645.90" font-size="11.55" text-anchor="start" font-weight="normal" style="stroke-width:0.7px">Monocytes</text>
</svg>
</body></html>
